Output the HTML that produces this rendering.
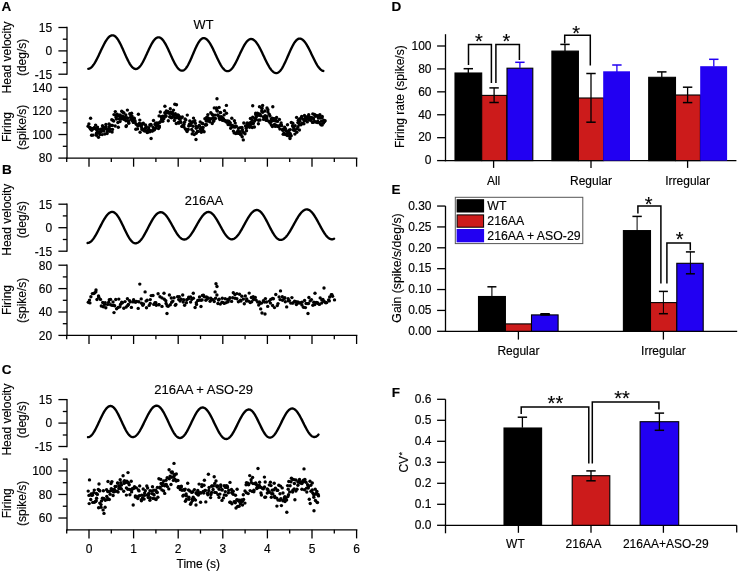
<!DOCTYPE html>
<html><head><meta charset="utf-8"><style>
html,body{margin:0;padding:0;background:#fff;}
svg{display:block;will-change:transform;}
text{font-family:"Liberation Sans",sans-serif;fill:#000;stroke:#000;stroke-width:0.15px;}
</style></head><body>
<svg width="738" height="573" viewBox="0 0 738 573">
<rect width="738" height="573" fill="#fff"/>
<text x="1.40" y="11.30" font-size="13.5" text-anchor="start" font-weight="bold" >A</text>
<text x="1.90" y="174.20" font-size="13.5" text-anchor="start" font-weight="bold" >B</text>
<text x="1.70" y="373.50" font-size="13.5" text-anchor="start" font-weight="bold" >C</text>
<text x="391.50" y="11.30" font-size="13.5" text-anchor="start" font-weight="bold" >D</text>
<text x="391.50" y="194.20" font-size="13.5" text-anchor="start" font-weight="bold" >E</text>
<text x="391.70" y="396.60" font-size="13.5" text-anchor="start" font-weight="bold" >F</text>
<text x="203.50" y="28.80" font-size="12.8" text-anchor="middle" font-weight="normal" >WT</text>
<line x1="67.00" y1="26.85" x2="67.00" y2="74.85" stroke="#000" stroke-width="1.3"/>
<line x1="58.40" y1="27.50" x2="67.00" y2="27.50" stroke="#000" stroke-width="1.3"/>
<text x="52.20" y="31.80" font-size="12" text-anchor="end" font-weight="normal" >15</text>
<line x1="58.40" y1="50.90" x2="67.00" y2="50.90" stroke="#000" stroke-width="1.3"/>
<text x="52.20" y="55.20" font-size="12" text-anchor="end" font-weight="normal" >0</text>
<line x1="58.40" y1="74.20" x2="67.00" y2="74.20" stroke="#000" stroke-width="1.3"/>
<text x="52.20" y="78.50" font-size="12" text-anchor="end" font-weight="normal" >-15</text>
<line x1="62.80" y1="39.20" x2="67.00" y2="39.20" stroke="#000" stroke-width="1.3"/>
<line x1="62.80" y1="62.60" x2="67.00" y2="62.60" stroke="#000" stroke-width="1.3"/>
<text transform="translate(10.80,57.40) rotate(-90)" font-size="12" text-anchor="middle">Head velocity</text>
<text transform="translate(26.30,57.40) rotate(-90)" font-size="12" text-anchor="middle">(deg/s)</text>
<line x1="67.00" y1="86.75" x2="67.00" y2="158.75" stroke="#000" stroke-width="1.3"/>
<line x1="58.40" y1="87.40" x2="67.00" y2="87.40" stroke="#000" stroke-width="1.3"/>
<text x="52.20" y="91.70" font-size="12" text-anchor="end" font-weight="normal" >140</text>
<line x1="58.40" y1="110.97" x2="67.00" y2="110.97" stroke="#000" stroke-width="1.3"/>
<text x="52.20" y="115.27" font-size="12" text-anchor="end" font-weight="normal" >120</text>
<line x1="58.40" y1="134.53" x2="67.00" y2="134.53" stroke="#000" stroke-width="1.3"/>
<text x="52.20" y="138.83" font-size="12" text-anchor="end" font-weight="normal" >100</text>
<line x1="58.40" y1="158.10" x2="67.00" y2="158.10" stroke="#000" stroke-width="1.3"/>
<text x="52.20" y="162.40" font-size="12" text-anchor="end" font-weight="normal" >80</text>
<line x1="62.80" y1="99.18" x2="67.00" y2="99.18" stroke="#000" stroke-width="1.3"/>
<line x1="62.80" y1="122.75" x2="67.00" y2="122.75" stroke="#000" stroke-width="1.3"/>
<line x1="62.80" y1="146.31" x2="67.00" y2="146.31" stroke="#000" stroke-width="1.3"/>
<text transform="translate(10.60,127.00) rotate(-90)" font-size="12" text-anchor="middle">Firing</text>
<text transform="translate(26.30,127.40) rotate(-90)" font-size="12" text-anchor="middle">(spike/s)</text>
<line x1="66.35" y1="158.10" x2="357.35" y2="158.10" stroke="#000" stroke-width="1.3"/>
<line x1="89.00" y1="158.10" x2="89.00" y2="166.70" stroke="#000" stroke-width="1.3"/>
<line x1="133.60" y1="158.10" x2="133.60" y2="166.70" stroke="#000" stroke-width="1.3"/>
<line x1="178.20" y1="158.10" x2="178.20" y2="166.70" stroke="#000" stroke-width="1.3"/>
<line x1="222.80" y1="158.10" x2="222.80" y2="166.70" stroke="#000" stroke-width="1.3"/>
<line x1="267.40" y1="158.10" x2="267.40" y2="166.70" stroke="#000" stroke-width="1.3"/>
<line x1="312.00" y1="158.10" x2="312.00" y2="166.70" stroke="#000" stroke-width="1.3"/>
<line x1="356.60" y1="158.10" x2="356.60" y2="166.70" stroke="#000" stroke-width="1.3"/>
<line x1="66.70" y1="158.10" x2="66.70" y2="161.90" stroke="#000" stroke-width="1.3"/>
<line x1="111.30" y1="158.10" x2="111.30" y2="161.90" stroke="#000" stroke-width="1.3"/>
<line x1="155.90" y1="158.10" x2="155.90" y2="161.90" stroke="#000" stroke-width="1.3"/>
<line x1="200.50" y1="158.10" x2="200.50" y2="161.90" stroke="#000" stroke-width="1.3"/>
<line x1="245.10" y1="158.10" x2="245.10" y2="161.90" stroke="#000" stroke-width="1.3"/>
<line x1="289.70" y1="158.10" x2="289.70" y2="161.90" stroke="#000" stroke-width="1.3"/>
<line x1="334.30" y1="158.10" x2="334.30" y2="161.90" stroke="#000" stroke-width="1.3"/>
<path d="M88.30,68.79 L88.80,68.71 L89.30,68.57 L89.80,68.36 L90.30,68.08 L90.80,67.73 L91.30,67.32 L91.80,66.85 L92.30,66.32 L92.80,65.73 L93.30,65.08 L93.80,64.38 L94.30,63.63 L94.80,62.83 L95.30,61.98 L95.80,61.10 L96.30,60.18 L96.80,59.22 L97.30,58.24 L97.80,57.23 L98.30,56.19 L98.80,55.15 L99.30,54.09 L99.80,53.02 L100.30,51.94 L100.80,50.87 L101.30,49.80 L101.80,48.74 L102.30,47.70 L102.80,46.67 L103.30,45.66 L103.80,44.69 L104.30,43.74 L104.80,42.82 L105.30,41.95 L105.80,41.11 L106.30,40.32 L106.80,39.58 L107.30,38.89 L107.80,38.25 L108.30,37.67 L108.80,37.15 L109.30,36.69 L109.80,36.29 L110.30,35.96 L110.80,35.70 L111.30,35.50 L111.80,35.37 L112.30,35.31 L112.80,35.31 L113.30,35.40 L113.80,35.56 L114.30,35.79 L114.80,36.10 L115.30,36.49 L115.80,36.94 L116.30,37.46 L116.80,38.05 L117.30,38.71 L117.80,39.42 L118.30,40.20 L118.80,41.02 L119.30,41.90 L119.80,42.82 L120.30,43.79 L120.80,44.80 L121.30,45.83 L121.80,46.90 L122.30,47.99 L122.80,49.10 L123.30,50.22 L123.80,51.36 L124.30,52.49 L124.80,53.62 L125.30,54.75 L125.80,55.87 L126.30,56.97 L126.80,58.04 L127.30,59.09 L127.80,60.11 L128.30,61.09 L128.80,62.04 L129.30,62.93 L129.80,63.78 L130.30,64.58 L130.80,65.31 L131.30,65.99 L131.80,66.61 L132.30,67.16 L132.80,67.64 L133.30,68.05 L133.80,68.39 L134.30,68.66 L134.80,68.85 L135.30,68.96 L135.80,69.00 L136.30,68.96 L136.80,68.85 L137.30,68.66 L137.80,68.40 L138.30,68.06 L138.80,67.65 L139.30,67.18 L139.80,66.63 L140.30,66.02 L140.80,65.35 L141.30,64.63 L141.80,63.84 L142.30,63.01 L142.80,62.13 L143.30,61.20 L143.80,60.24 L144.30,59.24 L144.80,58.21 L145.30,57.16 L145.80,56.09 L146.30,55.01 L146.80,53.92 L147.30,52.82 L147.80,51.73 L148.30,50.64 L148.80,49.56 L149.30,48.50 L149.80,47.47 L150.30,46.46 L150.80,45.48 L151.30,44.54 L151.80,43.64 L152.30,42.79 L152.80,41.98 L153.30,41.23 L153.80,40.54 L154.30,39.90 L154.80,39.33 L155.30,38.83 L155.80,38.39 L156.30,38.03 L156.80,37.74 L157.30,37.52 L157.80,37.37 L158.30,37.31 L158.80,37.31 L159.30,37.39 L159.80,37.55 L160.30,37.78 L160.80,38.08 L161.30,38.45 L161.80,38.89 L162.30,39.39 L162.80,39.96 L163.30,40.59 L163.80,41.29 L164.30,42.04 L164.80,42.84 L165.30,43.69 L165.80,44.58 L166.30,45.52 L166.80,46.50 L167.30,47.51 L167.80,48.54 L168.30,49.61 L168.80,50.69 L169.30,51.78 L169.80,52.89 L170.30,54.00 L170.80,55.11 L171.30,56.22 L171.80,57.31 L172.30,58.39 L172.80,59.46 L173.30,60.49 L173.80,61.50 L174.30,62.48 L174.80,63.42 L175.30,64.31 L175.80,65.16 L176.30,65.96 L176.80,66.71 L177.30,67.41 L177.80,68.04 L178.30,68.61 L178.80,69.11 L179.30,69.55 L179.80,69.92 L180.30,70.22 L180.80,70.45 L181.30,70.61 L181.80,70.69 L182.30,70.69 L182.80,70.62 L183.30,70.45 L183.80,70.20 L184.30,69.87 L184.80,69.46 L185.30,68.97 L185.80,68.40 L186.30,67.75 L186.80,67.04 L187.30,66.26 L187.80,65.41 L188.30,64.51 L188.80,63.55 L189.30,62.55 L189.80,61.50 L190.30,60.42 L190.80,59.30 L191.30,58.16 L191.80,57.00 L192.30,55.82 L192.80,54.64 L193.30,53.45 L193.80,52.27 L194.30,51.10 L194.80,49.95 L195.30,48.83 L195.80,47.73 L196.30,46.66 L196.80,45.64 L197.30,44.67 L197.80,43.74 L198.30,42.87 L198.80,42.07 L199.30,41.33 L199.80,40.65 L200.30,40.05 L200.80,39.53 L201.30,39.08 L201.80,38.72 L202.30,38.44 L202.80,38.24 L203.30,38.13 L203.80,38.10 L204.30,38.15 L204.80,38.27 L205.30,38.46 L205.80,38.73 L206.30,39.06 L206.80,39.46 L207.30,39.92 L207.80,40.45 L208.30,41.03 L208.80,41.68 L209.30,42.38 L209.80,43.14 L210.30,43.95 L210.80,44.80 L211.30,45.69 L211.80,46.63 L212.30,47.60 L212.80,48.59 L213.30,49.62 L213.80,50.66 L214.30,51.73 L214.80,52.80 L215.30,53.89 L215.80,54.98 L216.30,56.06 L216.80,57.14 L217.30,58.21 L217.80,59.27 L218.30,60.30 L218.80,61.31 L219.30,62.29 L219.80,63.24 L220.30,64.15 L220.80,65.02 L221.30,65.84 L221.80,66.62 L222.30,67.34 L222.80,68.01 L223.30,68.63 L223.80,69.18 L224.30,69.67 L224.80,70.09 L225.30,70.45 L225.80,70.74 L226.30,70.96 L226.80,71.11 L227.30,71.19 L227.80,71.19 L228.30,71.13 L228.80,70.99 L229.30,70.79 L229.80,70.51 L230.30,70.16 L230.80,69.75 L231.30,69.27 L231.80,68.73 L232.30,68.13 L232.80,67.46 L233.30,66.75 L233.80,65.98 L234.30,65.16 L234.80,64.30 L235.30,63.40 L235.80,62.46 L236.30,61.48 L236.80,60.48 L237.30,59.46 L237.80,58.41 L238.30,57.35 L238.80,56.28 L239.30,55.21 L239.80,54.13 L240.30,53.06 L240.80,52.00 L241.30,50.95 L241.80,49.92 L242.30,48.91 L242.80,47.93 L243.30,46.99 L243.80,46.08 L244.30,45.21 L244.80,44.38 L245.30,43.60 L245.80,42.87 L246.30,42.20 L246.80,41.59 L247.30,41.03 L247.80,40.54 L248.30,40.11 L248.80,39.76 L249.30,39.46 L249.80,39.24 L250.30,39.09 L250.80,39.01 L251.30,39.01 L251.80,39.06 L252.30,39.19 L252.80,39.38 L253.30,39.64 L253.80,39.96 L254.30,40.34 L254.80,40.78 L255.30,41.28 L255.80,41.84 L256.30,42.46 L256.80,43.13 L257.30,43.84 L257.80,44.61 L258.30,45.42 L258.80,46.27 L259.30,47.16 L259.80,48.08 L260.30,49.04 L260.80,50.02 L261.30,51.02 L261.80,52.05 L262.30,53.09 L262.80,54.14 L263.30,55.20 L263.80,56.26 L264.30,57.32 L264.80,58.38 L265.30,59.43 L265.80,60.46 L266.30,61.48 L266.80,62.48 L267.30,63.45 L267.80,64.39 L268.30,65.30 L268.80,66.17 L269.30,67.01 L269.80,67.80 L270.30,68.55 L270.80,69.25 L271.30,69.89 L271.80,70.49 L272.30,71.02 L272.80,71.50 L273.30,71.92 L273.80,72.28 L274.30,72.57 L274.80,72.80 L275.30,72.97 L275.80,73.07 L276.30,73.10 L276.80,73.06 L277.30,72.94 L277.80,72.75 L278.30,72.48 L278.80,72.14 L279.30,71.72 L279.80,71.23 L280.30,70.67 L280.80,70.05 L281.30,69.36 L281.80,68.61 L282.30,67.80 L282.80,66.94 L283.30,66.03 L283.80,65.07 L284.30,64.07 L284.80,63.04 L285.30,61.97 L285.80,60.87 L286.30,59.75 L286.80,58.62 L287.30,57.47 L287.80,56.31 L288.30,55.16 L288.80,54.00 L289.30,52.85 L289.80,51.72 L290.30,50.61 L290.80,49.52 L291.30,48.46 L291.80,47.43 L292.30,46.44 L292.80,45.49 L293.30,44.59 L293.80,43.73 L294.30,42.94 L294.80,42.20 L295.30,41.52 L295.80,40.91 L296.30,40.37 L296.80,39.89 L297.30,39.49 L297.80,39.16 L298.30,38.90 L298.80,38.73 L299.30,38.62 L299.80,38.60 L300.30,38.65 L300.80,38.76 L301.30,38.95 L301.80,39.19 L302.30,39.51 L302.80,39.88 L303.30,40.32 L303.80,40.82 L304.30,41.38 L304.80,42.00 L305.30,42.66 L305.80,43.38 L306.30,44.15 L306.80,44.96 L307.30,45.81 L307.80,46.70 L308.30,47.62 L308.80,48.58 L309.30,49.56 L309.80,50.56 L310.30,51.58 L310.80,52.61 L311.30,53.65 L311.80,54.70 L312.30,55.74 L312.80,56.78 L313.30,57.82 L313.80,58.84 L314.30,59.85 L314.80,60.83 L315.30,61.79 L315.80,62.72 L316.30,63.61 L316.80,64.47 L317.30,65.29 L317.80,66.07 L318.30,66.80 L318.80,67.47 L319.30,68.10 L319.80,68.67 L320.30,69.18 L320.80,69.63 L321.30,70.02 L321.80,70.35 L322.30,70.61 L322.80,70.81 L323.30,70.93" fill="none" stroke="#000" stroke-width="2.35" stroke-linejoin="round" stroke-linecap="round"/>
<g fill="#000"><circle cx="88.1" cy="126.3" r="1.7"/><circle cx="88.9" cy="123.9" r="1.7"/><circle cx="89.6" cy="127.5" r="1.7"/><circle cx="90.2" cy="127.6" r="1.7"/><circle cx="90.6" cy="118.2" r="1.7"/><circle cx="90.4" cy="129.0" r="1.7"/><circle cx="91.6" cy="135.2" r="1.7"/><circle cx="92.1" cy="128.7" r="1.7"/><circle cx="91.7" cy="130.2" r="1.7"/><circle cx="92.4" cy="128.6" r="1.7"/><circle cx="92.6" cy="129.0" r="1.7"/><circle cx="93.1" cy="135.1" r="1.7"/><circle cx="94.2" cy="127.8" r="1.7"/><circle cx="94.8" cy="128.0" r="1.7"/><circle cx="94.2" cy="128.2" r="1.7"/><circle cx="95.6" cy="125.1" r="1.7"/><circle cx="95.9" cy="129.1" r="1.7"/><circle cx="96.4" cy="135.3" r="1.7"/><circle cx="96.4" cy="133.5" r="1.7"/><circle cx="97.2" cy="132.2" r="1.7"/><circle cx="96.9" cy="129.9" r="1.7"/><circle cx="97.5" cy="127.1" r="1.7"/><circle cx="98.1" cy="129.1" r="1.7"/><circle cx="98.6" cy="132.0" r="1.7"/><circle cx="98.5" cy="137.3" r="1.7"/><circle cx="99.3" cy="133.0" r="1.7"/><circle cx="99.9" cy="134.5" r="1.7"/><circle cx="100.8" cy="129.2" r="1.7"/><circle cx="100.8" cy="130.0" r="1.7"/><circle cx="100.9" cy="131.5" r="1.7"/><circle cx="102.2" cy="134.6" r="1.7"/><circle cx="102.5" cy="125.8" r="1.7"/><circle cx="102.9" cy="128.3" r="1.7"/><circle cx="102.4" cy="130.7" r="1.7"/><circle cx="103.5" cy="127.3" r="1.7"/><circle cx="103.7" cy="130.9" r="1.7"/><circle cx="104.3" cy="127.6" r="1.7"/><circle cx="104.1" cy="128.2" r="1.7"/><circle cx="104.8" cy="134.0" r="1.7"/><circle cx="105.9" cy="124.5" r="1.7"/><circle cx="105.7" cy="128.7" r="1.7"/><circle cx="105.9" cy="127.0" r="1.7"/><circle cx="107.2" cy="131.8" r="1.7"/><circle cx="107.1" cy="133.5" r="1.7"/><circle cx="107.4" cy="129.4" r="1.7"/><circle cx="108.5" cy="129.4" r="1.7"/><circle cx="108.4" cy="130.4" r="1.7"/><circle cx="109.0" cy="126.9" r="1.7"/><circle cx="109.0" cy="124.0" r="1.7"/><circle cx="110.1" cy="125.1" r="1.7"/><circle cx="109.8" cy="131.3" r="1.7"/><circle cx="110.4" cy="129.1" r="1.7"/><circle cx="111.5" cy="125.4" r="1.7"/><circle cx="112.1" cy="132.1" r="1.7"/><circle cx="111.8" cy="119.8" r="1.7"/><circle cx="112.4" cy="125.4" r="1.7"/><circle cx="112.5" cy="129.4" r="1.7"/><circle cx="113.2" cy="120.4" r="1.7"/><circle cx="113.7" cy="121.1" r="1.7"/><circle cx="114.0" cy="114.6" r="1.7"/><circle cx="115.2" cy="126.0" r="1.7"/><circle cx="115.3" cy="111.6" r="1.7"/><circle cx="116.1" cy="117.4" r="1.7"/><circle cx="115.9" cy="114.9" r="1.7"/><circle cx="116.2" cy="116.5" r="1.7"/><circle cx="116.5" cy="119.1" r="1.7"/><circle cx="117.2" cy="114.3" r="1.7"/><circle cx="118.3" cy="127.3" r="1.7"/><circle cx="117.9" cy="122.5" r="1.7"/><circle cx="118.5" cy="115.9" r="1.7"/><circle cx="119.4" cy="119.1" r="1.7"/><circle cx="120.0" cy="114.9" r="1.7"/><circle cx="120.0" cy="116.7" r="1.7"/><circle cx="120.0" cy="121.6" r="1.7"/><circle cx="121.4" cy="116.2" r="1.7"/><circle cx="121.7" cy="111.3" r="1.7"/><circle cx="121.6" cy="119.0" r="1.7"/><circle cx="122.8" cy="112.3" r="1.7"/><circle cx="122.2" cy="116.6" r="1.7"/><circle cx="122.6" cy="116.3" r="1.7"/><circle cx="123.9" cy="113.0" r="1.7"/><circle cx="124.3" cy="119.5" r="1.7"/><circle cx="124.5" cy="118.0" r="1.7"/><circle cx="125.3" cy="117.2" r="1.7"/><circle cx="125.8" cy="115.0" r="1.7"/><circle cx="126.1" cy="126.6" r="1.7"/><circle cx="126.4" cy="125.6" r="1.7"/><circle cx="126.0" cy="120.8" r="1.7"/><circle cx="127.6" cy="118.2" r="1.7"/><circle cx="127.2" cy="117.9" r="1.7"/><circle cx="127.4" cy="110.1" r="1.7"/><circle cx="128.8" cy="123.3" r="1.7"/><circle cx="128.5" cy="120.9" r="1.7"/><circle cx="128.7" cy="122.1" r="1.7"/><circle cx="130.2" cy="114.4" r="1.7"/><circle cx="129.9" cy="113.6" r="1.7"/><circle cx="131.0" cy="119.3" r="1.7"/><circle cx="130.6" cy="117.3" r="1.7"/><circle cx="132.0" cy="116.1" r="1.7"/><circle cx="131.6" cy="113.2" r="1.7"/><circle cx="132.1" cy="120.5" r="1.7"/><circle cx="133.3" cy="120.6" r="1.7"/><circle cx="133.3" cy="122.4" r="1.7"/><circle cx="133.4" cy="118.1" r="1.7"/><circle cx="133.8" cy="122.0" r="1.7"/><circle cx="134.3" cy="118.3" r="1.7"/><circle cx="135.0" cy="120.8" r="1.7"/><circle cx="135.0" cy="122.1" r="1.7"/><circle cx="135.8" cy="129.2" r="1.7"/><circle cx="136.0" cy="123.9" r="1.7"/><circle cx="136.7" cy="124.6" r="1.7"/><circle cx="137.5" cy="128.9" r="1.7"/><circle cx="138.1" cy="125.3" r="1.7"/><circle cx="138.4" cy="114.3" r="1.7"/><circle cx="137.9" cy="126.0" r="1.7"/><circle cx="139.3" cy="123.5" r="1.7"/><circle cx="139.8" cy="120.1" r="1.7"/><circle cx="140.1" cy="132.3" r="1.7"/><circle cx="140.6" cy="125.2" r="1.7"/><circle cx="140.5" cy="124.0" r="1.7"/><circle cx="141.3" cy="126.6" r="1.7"/><circle cx="142.0" cy="128.4" r="1.7"/><circle cx="142.0" cy="129.4" r="1.7"/><circle cx="142.2" cy="124.4" r="1.7"/><circle cx="142.5" cy="123.8" r="1.7"/><circle cx="143.3" cy="123.3" r="1.7"/><circle cx="143.5" cy="130.3" r="1.7"/><circle cx="144.5" cy="131.1" r="1.7"/><circle cx="144.4" cy="129.2" r="1.7"/><circle cx="145.0" cy="130.1" r="1.7"/><circle cx="145.6" cy="128.0" r="1.7"/><circle cx="145.5" cy="125.0" r="1.7"/><circle cx="146.3" cy="126.7" r="1.7"/><circle cx="147.2" cy="132.5" r="1.7"/><circle cx="146.9" cy="131.5" r="1.7"/><circle cx="147.6" cy="130.5" r="1.7"/><circle cx="147.6" cy="132.3" r="1.7"/><circle cx="148.7" cy="127.8" r="1.7"/><circle cx="148.8" cy="129.4" r="1.7"/><circle cx="149.8" cy="125.0" r="1.7"/><circle cx="150.4" cy="130.6" r="1.7"/><circle cx="149.9" cy="131.8" r="1.7"/><circle cx="151.0" cy="125.3" r="1.7"/><circle cx="150.9" cy="124.4" r="1.7"/><circle cx="151.1" cy="138.5" r="1.7"/><circle cx="152.4" cy="131.1" r="1.7"/><circle cx="152.1" cy="130.7" r="1.7"/><circle cx="153.2" cy="127.5" r="1.7"/><circle cx="153.5" cy="120.5" r="1.7"/><circle cx="154.3" cy="129.7" r="1.7"/><circle cx="154.5" cy="128.4" r="1.7"/><circle cx="154.2" cy="129.8" r="1.7"/><circle cx="155.6" cy="123.2" r="1.7"/><circle cx="155.0" cy="124.4" r="1.7"/><circle cx="155.6" cy="128.2" r="1.7"/><circle cx="156.3" cy="125.5" r="1.7"/><circle cx="157.0" cy="126.1" r="1.7"/><circle cx="157.0" cy="122.9" r="1.7"/><circle cx="157.4" cy="124.5" r="1.7"/><circle cx="158.5" cy="128.6" r="1.7"/><circle cx="159.1" cy="115.9" r="1.7"/><circle cx="159.3" cy="122.7" r="1.7"/><circle cx="159.3" cy="127.2" r="1.7"/><circle cx="159.4" cy="126.1" r="1.7"/><circle cx="160.4" cy="121.7" r="1.7"/><circle cx="160.3" cy="112.0" r="1.7"/><circle cx="161.3" cy="116.7" r="1.7"/><circle cx="161.7" cy="119.3" r="1.7"/><circle cx="162.0" cy="117.9" r="1.7"/><circle cx="162.8" cy="121.2" r="1.7"/><circle cx="162.9" cy="116.2" r="1.7"/><circle cx="162.8" cy="119.6" r="1.7"/><circle cx="163.9" cy="118.5" r="1.7"/><circle cx="164.8" cy="112.7" r="1.7"/><circle cx="165.1" cy="115.8" r="1.7"/><circle cx="164.9" cy="106.2" r="1.7"/><circle cx="165.7" cy="115.8" r="1.7"/><circle cx="165.9" cy="116.2" r="1.7"/><circle cx="166.3" cy="111.0" r="1.7"/><circle cx="167.4" cy="112.7" r="1.7"/><circle cx="167.3" cy="112.4" r="1.7"/><circle cx="167.9" cy="111.5" r="1.7"/><circle cx="168.3" cy="120.7" r="1.7"/><circle cx="169.0" cy="112.7" r="1.7"/><circle cx="169.4" cy="113.3" r="1.7"/><circle cx="169.8" cy="116.9" r="1.7"/><circle cx="170.0" cy="116.7" r="1.7"/><circle cx="170.3" cy="108.8" r="1.7"/><circle cx="170.8" cy="112.1" r="1.7"/><circle cx="171.4" cy="117.7" r="1.7"/><circle cx="171.7" cy="113.9" r="1.7"/><circle cx="172.4" cy="112.1" r="1.7"/><circle cx="172.2" cy="117.3" r="1.7"/><circle cx="172.5" cy="113.6" r="1.7"/><circle cx="173.5" cy="110.1" r="1.7"/><circle cx="173.5" cy="115.2" r="1.7"/><circle cx="174.6" cy="115.3" r="1.7"/><circle cx="174.4" cy="120.5" r="1.7"/><circle cx="174.8" cy="118.0" r="1.7"/><circle cx="175.3" cy="113.8" r="1.7"/><circle cx="176.3" cy="123.5" r="1.7"/><circle cx="176.7" cy="117.8" r="1.7"/><circle cx="176.9" cy="117.0" r="1.7"/><circle cx="177.5" cy="115.0" r="1.7"/><circle cx="178.4" cy="122.9" r="1.7"/><circle cx="178.4" cy="115.3" r="1.7"/><circle cx="178.7" cy="122.1" r="1.7"/><circle cx="179.0" cy="123.0" r="1.7"/><circle cx="179.3" cy="118.7" r="1.7"/><circle cx="179.5" cy="116.7" r="1.7"/><circle cx="180.4" cy="121.5" r="1.7"/><circle cx="181.0" cy="122.4" r="1.7"/><circle cx="181.0" cy="118.2" r="1.7"/><circle cx="182.3" cy="117.0" r="1.7"/><circle cx="182.0" cy="126.4" r="1.7"/><circle cx="182.2" cy="126.3" r="1.7"/><circle cx="183.1" cy="125.1" r="1.7"/><circle cx="183.9" cy="127.0" r="1.7"/><circle cx="184.0" cy="124.4" r="1.7"/><circle cx="184.5" cy="122.2" r="1.7"/><circle cx="185.4" cy="129.0" r="1.7"/><circle cx="185.0" cy="118.9" r="1.7"/><circle cx="185.8" cy="119.9" r="1.7"/><circle cx="186.5" cy="129.9" r="1.7"/><circle cx="187.1" cy="131.5" r="1.7"/><circle cx="186.5" cy="129.8" r="1.7"/><circle cx="187.0" cy="130.0" r="1.7"/><circle cx="187.3" cy="115.1" r="1.7"/><circle cx="188.7" cy="126.1" r="1.7"/><circle cx="188.3" cy="129.4" r="1.7"/><circle cx="189.4" cy="124.2" r="1.7"/><circle cx="189.8" cy="120.9" r="1.7"/><circle cx="190.2" cy="125.4" r="1.7"/><circle cx="190.0" cy="125.0" r="1.7"/><circle cx="191.1" cy="123.7" r="1.7"/><circle cx="191.4" cy="122.4" r="1.7"/><circle cx="191.7" cy="129.4" r="1.7"/><circle cx="192.2" cy="133.9" r="1.7"/><circle cx="193.0" cy="126.3" r="1.7"/><circle cx="192.8" cy="121.7" r="1.7"/><circle cx="193.2" cy="131.4" r="1.7"/><circle cx="193.5" cy="118.1" r="1.7"/><circle cx="194.8" cy="120.7" r="1.7"/><circle cx="194.3" cy="134.6" r="1.7"/><circle cx="195.3" cy="123.3" r="1.7"/><circle cx="196.2" cy="133.3" r="1.7"/><circle cx="196.2" cy="128.3" r="1.7"/><circle cx="196.1" cy="126.2" r="1.7"/><circle cx="197.4" cy="131.4" r="1.7"/><circle cx="197.9" cy="131.5" r="1.7"/><circle cx="197.7" cy="127.3" r="1.7"/><circle cx="198.2" cy="131.4" r="1.7"/><circle cx="199.2" cy="125.4" r="1.7"/><circle cx="199.5" cy="125.9" r="1.7"/><circle cx="200.3" cy="129.1" r="1.7"/><circle cx="200.2" cy="121.9" r="1.7"/><circle cx="201.0" cy="128.1" r="1.7"/><circle cx="201.1" cy="131.1" r="1.7"/><circle cx="201.3" cy="132.2" r="1.7"/><circle cx="202.1" cy="127.6" r="1.7"/><circle cx="202.1" cy="123.3" r="1.7"/><circle cx="202.8" cy="130.1" r="1.7"/><circle cx="202.8" cy="123.7" r="1.7"/><circle cx="203.1" cy="127.4" r="1.7"/><circle cx="204.1" cy="131.7" r="1.7"/><circle cx="204.9" cy="118.7" r="1.7"/><circle cx="205.5" cy="124.7" r="1.7"/><circle cx="205.5" cy="125.0" r="1.7"/><circle cx="206.2" cy="121.1" r="1.7"/><circle cx="206.8" cy="117.2" r="1.7"/><circle cx="206.6" cy="124.8" r="1.7"/><circle cx="206.8" cy="119.9" r="1.7"/><circle cx="207.8" cy="121.0" r="1.7"/><circle cx="207.9" cy="117.9" r="1.7"/><circle cx="207.9" cy="114.6" r="1.7"/><circle cx="208.4" cy="118.1" r="1.7"/><circle cx="209.5" cy="119.8" r="1.7"/><circle cx="210.2" cy="119.1" r="1.7"/><circle cx="209.8" cy="121.8" r="1.7"/><circle cx="211.1" cy="118.7" r="1.7"/><circle cx="210.8" cy="112.7" r="1.7"/><circle cx="212.0" cy="114.1" r="1.7"/><circle cx="212.2" cy="123.5" r="1.7"/><circle cx="212.7" cy="115.0" r="1.7"/><circle cx="213.4" cy="117.8" r="1.7"/><circle cx="213.6" cy="121.3" r="1.7"/><circle cx="213.7" cy="120.3" r="1.7"/><circle cx="214.3" cy="107.9" r="1.7"/><circle cx="215.0" cy="115.1" r="1.7"/><circle cx="215.3" cy="118.5" r="1.7"/><circle cx="215.0" cy="118.4" r="1.7"/><circle cx="216.5" cy="108.5" r="1.7"/><circle cx="216.4" cy="108.0" r="1.7"/><circle cx="217.2" cy="111.0" r="1.7"/><circle cx="217.1" cy="110.6" r="1.7"/><circle cx="217.7" cy="115.0" r="1.7"/><circle cx="218.2" cy="115.4" r="1.7"/><circle cx="219.1" cy="118.1" r="1.7"/><circle cx="219.1" cy="107.4" r="1.7"/><circle cx="219.9" cy="119.5" r="1.7"/><circle cx="220.3" cy="117.3" r="1.7"/><circle cx="220.2" cy="112.5" r="1.7"/><circle cx="220.6" cy="112.6" r="1.7"/><circle cx="221.1" cy="116.6" r="1.7"/><circle cx="221.4" cy="118.7" r="1.7"/><circle cx="221.8" cy="117.3" r="1.7"/><circle cx="222.6" cy="120.4" r="1.7"/><circle cx="222.9" cy="117.9" r="1.7"/><circle cx="223.6" cy="119.1" r="1.7"/><circle cx="224.1" cy="114.9" r="1.7"/><circle cx="224.8" cy="120.9" r="1.7"/><circle cx="225.2" cy="120.6" r="1.7"/><circle cx="224.5" cy="110.8" r="1.7"/><circle cx="225.4" cy="120.9" r="1.7"/><circle cx="226.4" cy="105.4" r="1.7"/><circle cx="226.5" cy="113.3" r="1.7"/><circle cx="226.7" cy="122.3" r="1.7"/><circle cx="227.4" cy="120.9" r="1.7"/><circle cx="227.9" cy="121.4" r="1.7"/><circle cx="228.1" cy="124.6" r="1.7"/><circle cx="229.0" cy="122.1" r="1.7"/><circle cx="228.9" cy="121.3" r="1.7"/><circle cx="229.2" cy="124.3" r="1.7"/><circle cx="230.3" cy="123.0" r="1.7"/><circle cx="230.2" cy="125.1" r="1.7"/><circle cx="230.7" cy="128.2" r="1.7"/><circle cx="231.8" cy="118.2" r="1.7"/><circle cx="231.7" cy="125.6" r="1.7"/><circle cx="232.4" cy="125.5" r="1.7"/><circle cx="233.1" cy="126.7" r="1.7"/><circle cx="233.5" cy="126.6" r="1.7"/><circle cx="233.4" cy="131.1" r="1.7"/><circle cx="234.3" cy="126.8" r="1.7"/><circle cx="234.2" cy="132.9" r="1.7"/><circle cx="234.4" cy="120.7" r="1.7"/><circle cx="235.2" cy="123.1" r="1.7"/><circle cx="235.2" cy="127.1" r="1.7"/><circle cx="235.8" cy="133.5" r="1.7"/><circle cx="236.3" cy="126.2" r="1.7"/><circle cx="236.5" cy="132.7" r="1.7"/><circle cx="237.6" cy="132.1" r="1.7"/><circle cx="238.0" cy="130.6" r="1.7"/><circle cx="238.6" cy="128.2" r="1.7"/><circle cx="238.5" cy="133.4" r="1.7"/><circle cx="238.7" cy="133.4" r="1.7"/><circle cx="239.8" cy="132.6" r="1.7"/><circle cx="240.2" cy="131.8" r="1.7"/><circle cx="240.9" cy="134.4" r="1.7"/><circle cx="240.3" cy="127.6" r="1.7"/><circle cx="240.8" cy="134.7" r="1.7"/><circle cx="242.0" cy="127.4" r="1.7"/><circle cx="242.2" cy="136.7" r="1.7"/><circle cx="242.4" cy="129.8" r="1.7"/><circle cx="243.3" cy="139.9" r="1.7"/><circle cx="243.0" cy="132.0" r="1.7"/><circle cx="243.7" cy="132.6" r="1.7"/><circle cx="243.8" cy="123.0" r="1.7"/><circle cx="245.0" cy="133.8" r="1.7"/><circle cx="245.5" cy="126.0" r="1.7"/><circle cx="246.2" cy="128.2" r="1.7"/><circle cx="246.5" cy="130.8" r="1.7"/><circle cx="247.0" cy="123.7" r="1.7"/><circle cx="247.2" cy="123.0" r="1.7"/><circle cx="247.5" cy="126.3" r="1.7"/><circle cx="248.4" cy="124.9" r="1.7"/><circle cx="248.3" cy="125.7" r="1.7"/><circle cx="248.4" cy="123.5" r="1.7"/><circle cx="248.9" cy="124.6" r="1.7"/><circle cx="249.6" cy="127.2" r="1.7"/><circle cx="250.3" cy="125.8" r="1.7"/><circle cx="250.6" cy="122.5" r="1.7"/><circle cx="250.4" cy="118.5" r="1.7"/><circle cx="251.6" cy="123.8" r="1.7"/><circle cx="252.3" cy="120.4" r="1.7"/><circle cx="252.7" cy="117.2" r="1.7"/><circle cx="252.3" cy="127.5" r="1.7"/><circle cx="253.0" cy="123.8" r="1.7"/><circle cx="253.3" cy="123.2" r="1.7"/><circle cx="254.4" cy="127.0" r="1.7"/><circle cx="254.9" cy="118.3" r="1.7"/><circle cx="254.7" cy="121.0" r="1.7"/><circle cx="255.7" cy="114.5" r="1.7"/><circle cx="255.7" cy="113.1" r="1.7"/><circle cx="255.7" cy="119.5" r="1.7"/><circle cx="256.1" cy="117.5" r="1.7"/><circle cx="256.6" cy="115.8" r="1.7"/><circle cx="257.5" cy="113.3" r="1.7"/><circle cx="258.4" cy="123.7" r="1.7"/><circle cx="258.7" cy="114.3" r="1.7"/><circle cx="258.5" cy="120.2" r="1.7"/><circle cx="259.1" cy="115.4" r="1.7"/><circle cx="259.5" cy="106.7" r="1.7"/><circle cx="260.0" cy="120.0" r="1.7"/><circle cx="260.0" cy="114.0" r="1.7"/><circle cx="260.9" cy="115.8" r="1.7"/><circle cx="261.7" cy="111.0" r="1.7"/><circle cx="261.9" cy="108.5" r="1.7"/><circle cx="261.9" cy="108.1" r="1.7"/><circle cx="262.7" cy="112.2" r="1.7"/><circle cx="262.6" cy="105.5" r="1.7"/><circle cx="263.5" cy="117.0" r="1.7"/><circle cx="263.6" cy="119.4" r="1.7"/><circle cx="265.1" cy="115.6" r="1.7"/><circle cx="264.9" cy="111.0" r="1.7"/><circle cx="265.7" cy="116.5" r="1.7"/><circle cx="265.9" cy="118.8" r="1.7"/><circle cx="266.8" cy="118.1" r="1.7"/><circle cx="266.2" cy="120.4" r="1.7"/><circle cx="266.6" cy="116.5" r="1.7"/><circle cx="267.9" cy="112.0" r="1.7"/><circle cx="267.6" cy="120.6" r="1.7"/><circle cx="267.9" cy="109.7" r="1.7"/><circle cx="269.1" cy="121.5" r="1.7"/><circle cx="269.2" cy="114.2" r="1.7"/><circle cx="270.1" cy="123.0" r="1.7"/><circle cx="270.0" cy="116.0" r="1.7"/><circle cx="271.0" cy="121.5" r="1.7"/><circle cx="271.2" cy="119.1" r="1.7"/><circle cx="271.4" cy="124.9" r="1.7"/><circle cx="272.2" cy="118.3" r="1.7"/><circle cx="272.6" cy="120.8" r="1.7"/><circle cx="272.4" cy="126.5" r="1.7"/><circle cx="273.1" cy="118.6" r="1.7"/><circle cx="274.3" cy="118.8" r="1.7"/><circle cx="273.6" cy="120.3" r="1.7"/><circle cx="274.5" cy="124.5" r="1.7"/><circle cx="275.6" cy="121.0" r="1.7"/><circle cx="275.4" cy="126.4" r="1.7"/><circle cx="275.8" cy="120.2" r="1.7"/><circle cx="276.0" cy="125.1" r="1.7"/><circle cx="276.6" cy="117.5" r="1.7"/><circle cx="277.5" cy="121.4" r="1.7"/><circle cx="277.9" cy="126.0" r="1.7"/><circle cx="277.9" cy="126.4" r="1.7"/><circle cx="278.5" cy="126.6" r="1.7"/><circle cx="278.6" cy="126.8" r="1.7"/><circle cx="279.4" cy="119.4" r="1.7"/><circle cx="279.9" cy="129.0" r="1.7"/><circle cx="280.1" cy="125.3" r="1.7"/><circle cx="281.1" cy="125.3" r="1.7"/><circle cx="281.4" cy="125.5" r="1.7"/><circle cx="281.1" cy="123.0" r="1.7"/><circle cx="281.5" cy="125.4" r="1.7"/><circle cx="282.7" cy="130.3" r="1.7"/><circle cx="282.7" cy="129.3" r="1.7"/><circle cx="283.2" cy="134.2" r="1.7"/><circle cx="283.3" cy="130.0" r="1.7"/><circle cx="284.0" cy="133.2" r="1.7"/><circle cx="284.8" cy="129.9" r="1.7"/><circle cx="284.6" cy="127.1" r="1.7"/><circle cx="285.3" cy="134.5" r="1.7"/><circle cx="285.5" cy="128.7" r="1.7"/><circle cx="286.6" cy="131.3" r="1.7"/><circle cx="286.4" cy="134.1" r="1.7"/><circle cx="287.5" cy="124.7" r="1.7"/><circle cx="287.3" cy="135.5" r="1.7"/><circle cx="287.9" cy="133.4" r="1.7"/><circle cx="288.9" cy="132.3" r="1.7"/><circle cx="289.0" cy="130.2" r="1.7"/><circle cx="289.7" cy="135.7" r="1.7"/><circle cx="289.9" cy="136.7" r="1.7"/><circle cx="290.3" cy="129.6" r="1.7"/><circle cx="290.3" cy="133.8" r="1.7"/><circle cx="291.2" cy="135.7" r="1.7"/><circle cx="291.3" cy="122.5" r="1.7"/><circle cx="292.6" cy="125.8" r="1.7"/><circle cx="292.8" cy="123.2" r="1.7"/><circle cx="293.5" cy="130.1" r="1.7"/><circle cx="293.0" cy="126.5" r="1.7"/><circle cx="293.7" cy="127.9" r="1.7"/><circle cx="294.9" cy="134.1" r="1.7"/><circle cx="294.7" cy="130.4" r="1.7"/><circle cx="294.8" cy="129.7" r="1.7"/><circle cx="295.1" cy="125.7" r="1.7"/><circle cx="296.6" cy="117.4" r="1.7"/><circle cx="296.8" cy="132.2" r="1.7"/><circle cx="297.1" cy="128.7" r="1.7"/><circle cx="297.9" cy="122.6" r="1.7"/><circle cx="298.3" cy="120.3" r="1.7"/><circle cx="298.0" cy="126.7" r="1.7"/><circle cx="298.8" cy="122.8" r="1.7"/><circle cx="299.4" cy="130.0" r="1.7"/><circle cx="299.4" cy="124.5" r="1.7"/><circle cx="299.5" cy="119.0" r="1.7"/><circle cx="299.8" cy="121.3" r="1.7"/><circle cx="300.9" cy="124.8" r="1.7"/><circle cx="301.4" cy="117.2" r="1.7"/><circle cx="301.7" cy="116.4" r="1.7"/><circle cx="302.5" cy="123.5" r="1.7"/><circle cx="302.3" cy="123.4" r="1.7"/><circle cx="302.6" cy="119.0" r="1.7"/><circle cx="303.9" cy="123.7" r="1.7"/><circle cx="304.3" cy="120.9" r="1.7"/><circle cx="304.5" cy="119.9" r="1.7"/><circle cx="304.5" cy="115.4" r="1.7"/><circle cx="305.4" cy="116.7" r="1.7"/><circle cx="305.3" cy="119.0" r="1.7"/><circle cx="305.8" cy="120.3" r="1.7"/><circle cx="306.3" cy="118.0" r="1.7"/><circle cx="307.3" cy="121.9" r="1.7"/><circle cx="307.9" cy="118.4" r="1.7"/><circle cx="307.6" cy="116.7" r="1.7"/><circle cx="308.7" cy="114.7" r="1.7"/><circle cx="309.0" cy="119.8" r="1.7"/><circle cx="309.0" cy="118.5" r="1.7"/><circle cx="309.7" cy="117.2" r="1.7"/><circle cx="310.5" cy="120.1" r="1.7"/><circle cx="310.0" cy="117.5" r="1.7"/><circle cx="311.0" cy="117.7" r="1.7"/><circle cx="310.8" cy="120.2" r="1.7"/><circle cx="311.6" cy="117.6" r="1.7"/><circle cx="312.8" cy="113.9" r="1.7"/><circle cx="313.3" cy="118.0" r="1.7"/><circle cx="312.5" cy="122.4" r="1.7"/><circle cx="313.1" cy="122.2" r="1.7"/><circle cx="313.6" cy="119.1" r="1.7"/><circle cx="314.4" cy="114.5" r="1.7"/><circle cx="314.5" cy="121.5" r="1.7"/><circle cx="315.5" cy="122.0" r="1.7"/><circle cx="315.7" cy="116.2" r="1.7"/><circle cx="315.6" cy="115.2" r="1.7"/><circle cx="317.2" cy="115.8" r="1.7"/><circle cx="317.3" cy="122.6" r="1.7"/><circle cx="317.7" cy="121.2" r="1.7"/><circle cx="318.5" cy="115.9" r="1.7"/><circle cx="318.4" cy="118.1" r="1.7"/><circle cx="319.0" cy="122.4" r="1.7"/><circle cx="319.2" cy="117.2" r="1.7"/><circle cx="319.9" cy="114.7" r="1.7"/><circle cx="320.3" cy="118.0" r="1.7"/><circle cx="320.3" cy="124.0" r="1.7"/><circle cx="321.5" cy="121.3" r="1.7"/><circle cx="321.4" cy="124.9" r="1.7"/><circle cx="322.0" cy="117.8" r="1.7"/><circle cx="322.2" cy="116.5" r="1.7"/><circle cx="322.2" cy="124.9" r="1.7"/><circle cx="323.5" cy="123.1" r="1.7"/><circle cx="323.7" cy="120.3" r="1.7"/><circle cx="324.5" cy="121.5" r="1.7"/><circle cx="325.1" cy="120.8" r="1.7"/><circle cx="217.0" cy="98.8" r="1.7"/><circle cx="252.7" cy="105.8" r="1.7"/><circle cx="272.8" cy="106.8" r="1.7"/><circle cx="174.8" cy="104.3" r="1.7"/><circle cx="176.5" cy="104.8" r="1.7"/><circle cx="290.0" cy="138.5" r="1.7"/><circle cx="196.0" cy="139.5" r="1.7"/><circle cx="267.0" cy="108.0" r="1.7"/></g>
<text x="204.00" y="204.80" font-size="12.8" text-anchor="middle" font-weight="normal" >216AA</text>
<line x1="67.00" y1="203.55" x2="67.00" y2="251.85" stroke="#000" stroke-width="1.3"/>
<line x1="58.40" y1="204.20" x2="67.00" y2="204.20" stroke="#000" stroke-width="1.3"/>
<text x="52.20" y="208.50" font-size="12" text-anchor="end" font-weight="normal" >15</text>
<line x1="58.40" y1="227.70" x2="67.00" y2="227.70" stroke="#000" stroke-width="1.3"/>
<text x="52.20" y="232.00" font-size="12" text-anchor="end" font-weight="normal" >0</text>
<line x1="58.40" y1="251.20" x2="67.00" y2="251.20" stroke="#000" stroke-width="1.3"/>
<text x="52.20" y="255.50" font-size="12" text-anchor="end" font-weight="normal" >-15</text>
<line x1="62.80" y1="215.90" x2="67.00" y2="215.90" stroke="#000" stroke-width="1.3"/>
<line x1="62.80" y1="239.50" x2="67.00" y2="239.50" stroke="#000" stroke-width="1.3"/>
<text transform="translate(10.80,219.70) rotate(-90)" font-size="12" text-anchor="middle">Head velocity</text>
<text transform="translate(26.30,219.70) rotate(-90)" font-size="12" text-anchor="middle">(deg/s)</text>
<line x1="67.00" y1="264.55" x2="67.00" y2="336.05" stroke="#000" stroke-width="1.3"/>
<line x1="58.40" y1="265.20" x2="67.00" y2="265.20" stroke="#000" stroke-width="1.3"/>
<text x="52.20" y="269.50" font-size="12" text-anchor="end" font-weight="normal" >80</text>
<line x1="58.40" y1="288.60" x2="67.00" y2="288.60" stroke="#000" stroke-width="1.3"/>
<text x="52.20" y="292.90" font-size="12" text-anchor="end" font-weight="normal" >60</text>
<line x1="58.40" y1="312.00" x2="67.00" y2="312.00" stroke="#000" stroke-width="1.3"/>
<text x="52.20" y="316.30" font-size="12" text-anchor="end" font-weight="normal" >40</text>
<line x1="58.40" y1="335.40" x2="67.00" y2="335.40" stroke="#000" stroke-width="1.3"/>
<text x="52.20" y="339.70" font-size="12" text-anchor="end" font-weight="normal" >20</text>
<line x1="62.80" y1="276.90" x2="67.00" y2="276.90" stroke="#000" stroke-width="1.3"/>
<line x1="62.80" y1="300.30" x2="67.00" y2="300.30" stroke="#000" stroke-width="1.3"/>
<line x1="62.80" y1="323.70" x2="67.00" y2="323.70" stroke="#000" stroke-width="1.3"/>
<text transform="translate(10.60,300.00) rotate(-90)" font-size="12" text-anchor="middle">Firing</text>
<text transform="translate(26.30,300.30) rotate(-90)" font-size="12" text-anchor="middle">(spike/s)</text>
<line x1="66.35" y1="335.40" x2="357.35" y2="335.40" stroke="#000" stroke-width="1.3"/>
<line x1="89.00" y1="335.40" x2="89.00" y2="344.00" stroke="#000" stroke-width="1.3"/>
<line x1="133.60" y1="335.40" x2="133.60" y2="344.00" stroke="#000" stroke-width="1.3"/>
<line x1="178.20" y1="335.40" x2="178.20" y2="344.00" stroke="#000" stroke-width="1.3"/>
<line x1="222.80" y1="335.40" x2="222.80" y2="344.00" stroke="#000" stroke-width="1.3"/>
<line x1="267.40" y1="335.40" x2="267.40" y2="344.00" stroke="#000" stroke-width="1.3"/>
<line x1="312.00" y1="335.40" x2="312.00" y2="344.00" stroke="#000" stroke-width="1.3"/>
<line x1="356.60" y1="335.40" x2="356.60" y2="344.00" stroke="#000" stroke-width="1.3"/>
<line x1="66.70" y1="335.40" x2="66.70" y2="339.20" stroke="#000" stroke-width="1.3"/>
<line x1="111.30" y1="335.40" x2="111.30" y2="339.20" stroke="#000" stroke-width="1.3"/>
<line x1="155.90" y1="335.40" x2="155.90" y2="339.20" stroke="#000" stroke-width="1.3"/>
<line x1="200.50" y1="335.40" x2="200.50" y2="339.20" stroke="#000" stroke-width="1.3"/>
<line x1="245.10" y1="335.40" x2="245.10" y2="339.20" stroke="#000" stroke-width="1.3"/>
<line x1="289.70" y1="335.40" x2="289.70" y2="339.20" stroke="#000" stroke-width="1.3"/>
<line x1="334.30" y1="335.40" x2="334.30" y2="339.20" stroke="#000" stroke-width="1.3"/>
<path d="M87.60,243.00 L88.10,242.94 L88.60,242.82 L89.10,242.64 L89.60,242.40 L90.10,242.10 L90.60,241.74 L91.10,241.32 L91.60,240.85 L92.10,240.32 L92.60,239.75 L93.10,239.12 L93.60,238.45 L94.10,237.73 L94.60,236.97 L95.10,236.17 L95.60,235.34 L96.10,234.47 L96.60,233.58 L97.10,232.67 L97.60,231.73 L98.10,230.77 L98.60,229.80 L99.10,228.83 L99.60,227.84 L100.10,226.86 L100.60,225.88 L101.10,224.90 L101.60,223.93 L102.10,222.98 L102.60,222.05 L103.10,221.14 L103.60,220.25 L104.10,219.39 L104.60,218.57 L105.10,217.78 L105.60,217.03 L106.10,216.32 L106.60,215.65 L107.10,215.03 L107.60,214.47 L108.10,213.95 L108.60,213.49 L109.10,213.08 L109.60,212.74 L110.10,212.45 L110.60,212.22 L111.10,212.05 L111.60,211.94 L112.10,211.90 L112.60,211.92 L113.10,212.02 L113.60,212.18 L114.10,212.41 L114.60,212.71 L115.10,213.08 L115.60,213.52 L116.10,214.02 L116.60,214.58 L117.10,215.20 L117.60,215.88 L118.10,216.61 L118.60,217.39 L119.10,218.22 L119.60,219.09 L120.10,220.00 L120.60,220.94 L121.10,221.91 L121.60,222.91 L122.10,223.93 L122.60,224.97 L123.10,226.02 L123.60,227.07 L124.10,228.13 L124.60,229.18 L125.10,230.23 L125.60,231.27 L126.10,232.29 L126.60,233.29 L127.10,234.26 L127.60,235.20 L128.10,236.11 L128.60,236.98 L129.10,237.81 L129.60,238.59 L130.10,239.32 L130.60,240.00 L131.10,240.62 L131.60,241.18 L132.10,241.68 L132.60,242.12 L133.10,242.49 L133.60,242.79 L134.10,243.02 L134.60,243.18 L135.10,243.28 L135.60,243.30 L136.10,243.26 L136.60,243.15 L137.10,242.99 L137.60,242.77 L138.10,242.49 L138.60,242.15 L139.10,241.76 L139.60,241.31 L140.10,240.81 L140.60,240.26 L141.10,239.66 L141.60,239.02 L142.10,238.33 L142.60,237.60 L143.10,236.83 L143.60,236.02 L144.10,235.19 L144.60,234.32 L145.10,233.43 L145.60,232.52 L146.10,231.59 L146.60,230.64 L147.10,229.68 L147.60,228.72 L148.10,227.75 L148.60,226.78 L149.10,225.82 L149.60,224.86 L150.10,223.91 L150.60,222.98 L151.10,222.07 L151.60,221.18 L152.10,220.31 L152.60,219.48 L153.10,218.67 L153.60,217.90 L154.10,217.17 L154.60,216.48 L155.10,215.84 L155.60,215.24 L156.10,214.69 L156.60,214.19 L157.10,213.74 L157.60,213.35 L158.10,213.01 L158.60,212.73 L159.10,212.51 L159.60,212.35 L160.10,212.24 L160.60,212.20 L161.10,212.22 L161.60,212.30 L162.10,212.44 L162.60,212.64 L163.10,212.90 L163.60,213.21 L164.10,213.59 L164.60,214.01 L165.10,214.49 L165.60,215.03 L166.10,215.60 L166.60,216.23 L167.10,216.90 L167.60,217.61 L168.10,218.35 L168.60,219.13 L169.10,219.94 L169.60,220.77 L170.10,221.63 L170.60,222.51 L171.10,223.40 L171.60,224.30 L172.10,225.21 L172.60,226.12 L173.10,227.03 L173.60,227.94 L174.10,228.84 L174.60,229.72 L175.10,230.59 L175.60,231.43 L176.10,232.25 L176.60,233.04 L177.10,233.80 L177.60,234.52 L178.10,235.21 L178.60,235.85 L179.10,236.45 L179.60,237.00 L180.10,237.50 L180.60,237.95 L181.10,238.34 L181.60,238.68 L182.10,238.97 L182.60,239.19 L183.10,239.35 L183.60,239.46 L184.10,239.50 L184.60,239.48 L185.10,239.41 L185.60,239.28 L186.10,239.09 L186.60,238.84 L187.10,238.54 L187.60,238.19 L188.10,237.79 L188.60,237.33 L189.10,236.83 L189.60,236.28 L190.10,235.69 L190.60,235.06 L191.10,234.38 L191.60,233.67 L192.10,232.93 L192.60,232.16 L193.10,231.36 L193.60,230.54 L194.10,229.69 L194.60,228.83 L195.10,227.96 L195.60,227.08 L196.10,226.19 L196.60,225.31 L197.10,224.42 L197.60,223.54 L198.10,222.67 L198.60,221.81 L199.10,220.96 L199.60,220.14 L200.10,219.34 L200.60,218.57 L201.10,217.83 L201.60,217.12 L202.10,216.44 L202.60,215.81 L203.10,215.22 L203.60,214.67 L204.10,214.17 L204.60,213.71 L205.10,213.31 L205.60,212.96 L206.10,212.66 L206.60,212.41 L207.10,212.22 L207.60,212.09 L208.10,212.02 L208.60,212.00 L209.10,212.04 L209.60,212.15 L210.10,212.32 L210.60,212.54 L211.10,212.83 L211.60,213.18 L212.10,213.58 L212.60,214.03 L213.10,214.54 L213.60,215.10 L214.10,215.71 L214.60,216.36 L215.10,217.06 L215.60,217.79 L216.10,218.56 L216.60,219.36 L217.10,220.19 L217.60,221.05 L218.10,221.92 L218.60,222.82 L219.10,223.72 L219.60,224.64 L220.10,225.56 L220.60,226.48 L221.10,227.39 L221.60,228.30 L222.10,229.20 L222.60,230.08 L223.10,230.94 L223.60,231.77 L224.10,232.58 L224.60,233.36 L225.10,234.10 L225.60,234.80 L226.10,235.46 L226.60,236.08 L227.10,236.65 L227.60,237.17 L228.10,237.64 L228.60,238.05 L229.10,238.41 L229.60,238.70 L230.10,238.94 L230.60,239.12 L231.10,239.24 L231.60,239.30 L232.10,239.29 L232.60,239.23 L233.10,239.10 L233.60,238.93 L234.10,238.69 L234.60,238.40 L235.10,238.06 L235.60,237.66 L236.10,237.21 L236.60,236.71 L237.10,236.17 L237.60,235.58 L238.10,234.94 L238.60,234.27 L239.10,233.56 L239.60,232.81 L240.10,232.03 L240.60,231.22 L241.10,230.38 L241.60,229.53 L242.10,228.65 L242.60,227.76 L243.10,226.85 L243.60,225.94 L244.10,225.02 L244.60,224.10 L245.10,223.18 L245.60,222.27 L246.10,221.36 L246.60,220.47 L247.10,219.60 L247.60,218.75 L248.10,217.92 L248.60,217.11 L249.10,216.34 L249.60,215.60 L250.10,214.89 L250.60,214.23 L251.10,213.60 L251.60,213.02 L252.10,212.48 L252.60,211.99 L253.10,211.56 L253.60,211.17 L254.10,210.84 L254.60,210.56 L255.10,210.33 L255.60,210.17 L256.10,210.06 L256.60,210.00 L257.10,210.01 L257.60,210.08 L258.10,210.22 L258.60,210.42 L259.10,210.68 L259.60,211.01 L260.10,211.40 L260.60,211.84 L261.10,212.34 L261.60,212.90 L262.10,213.51 L262.60,214.17 L263.10,214.88 L263.60,215.63 L264.10,216.42 L264.60,217.25 L265.10,218.11 L265.60,219.00 L266.10,219.92 L266.60,220.86 L267.10,221.82 L267.60,222.79 L268.10,223.77 L268.60,224.75 L269.10,225.74 L269.60,226.72 L270.10,227.70 L270.60,228.66 L271.10,229.61 L271.60,230.53 L272.10,231.44 L272.60,232.31 L273.10,233.15 L273.60,233.96 L274.10,234.73 L274.60,235.45 L275.10,236.13 L275.60,236.76 L276.10,237.34 L276.60,237.86 L277.10,238.33 L277.60,238.74 L278.10,239.09 L278.60,239.38 L279.10,239.61 L279.60,239.77 L280.10,239.87 L280.60,239.90 L281.10,239.87 L281.60,239.79 L282.10,239.65 L282.60,239.46 L283.10,239.22 L283.60,238.92 L284.10,238.58 L284.60,238.18 L285.10,237.73 L285.60,237.24 L286.10,236.70 L286.60,236.12 L287.10,235.50 L287.60,234.84 L288.10,234.14 L288.60,233.41 L289.10,232.64 L289.60,231.85 L290.10,231.03 L290.60,230.19 L291.10,229.33 L291.60,228.45 L292.10,227.56 L292.60,226.66 L293.10,225.75 L293.60,224.83 L294.10,223.92 L294.60,223.01 L295.10,222.10 L295.60,221.21 L296.10,220.32 L296.60,219.45 L297.10,218.60 L297.60,217.78 L298.10,216.97 L298.60,216.20 L299.10,215.45 L299.60,214.74 L300.10,214.06 L300.60,213.42 L301.10,212.83 L301.60,212.27 L302.10,211.76 L302.60,211.29 L303.10,210.88 L303.60,210.51 L304.10,210.19 L304.60,209.93 L305.10,209.72 L305.60,209.56 L306.10,209.45 L306.60,209.40 L307.10,209.41 L307.60,209.47 L308.10,209.60 L308.60,209.78 L309.10,210.02 L309.60,210.31 L310.10,210.66 L310.60,211.06 L311.10,211.51 L311.60,212.02 L312.10,212.57 L312.60,213.17 L313.10,213.81 L313.60,214.50 L314.10,215.22 L314.60,215.98 L315.10,216.77 L315.60,217.59 L316.10,218.43 L316.60,219.31 L317.10,220.20 L317.60,221.10 L318.10,222.02 L318.60,222.95 L319.10,223.88 L319.60,224.82 L320.10,225.75 L320.60,226.68 L321.10,227.60 L321.60,228.50 L322.10,229.39 L322.60,230.27 L323.10,231.11 L323.60,231.93 L324.10,232.72 L324.60,233.48 L325.10,234.20 L325.60,234.89 L326.10,235.53 L326.60,236.13 L327.10,236.68 L327.60,237.19 L328.10,237.64 L328.60,238.04 L329.10,238.39 L329.60,238.68 L330.10,238.92 L330.60,239.10 L331.10,239.23 L331.60,239.29 L332.10,239.30 L332.60,239.24 L333.10,239.12 L333.60,238.94 L334.10,238.70" fill="none" stroke="#000" stroke-width="2.35" stroke-linejoin="round" stroke-linecap="round"/>
<g fill="#000"><circle cx="88.3" cy="302.3" r="1.7"/><circle cx="89.5" cy="300.1" r="1.7"/><circle cx="89.9" cy="302.9" r="1.7"/><circle cx="90.9" cy="296.7" r="1.7"/><circle cx="92.4" cy="293.6" r="1.7"/><circle cx="93.6" cy="293.6" r="1.7"/><circle cx="94.5" cy="293.0" r="1.7"/><circle cx="95.8" cy="291.9" r="1.7"/><circle cx="96.0" cy="289.9" r="1.7"/><circle cx="97.0" cy="299.5" r="1.7"/><circle cx="98.5" cy="296.0" r="1.7"/><circle cx="98.8" cy="297.3" r="1.7"/><circle cx="100.5" cy="299.4" r="1.7"/><circle cx="101.3" cy="306.0" r="1.7"/><circle cx="102.7" cy="302.5" r="1.7"/><circle cx="103.3" cy="306.7" r="1.7"/><circle cx="104.6" cy="304.4" r="1.7"/><circle cx="105.2" cy="302.7" r="1.7"/><circle cx="105.8" cy="307.7" r="1.7"/><circle cx="107.6" cy="304.6" r="1.7"/><circle cx="108.7" cy="302.3" r="1.7"/><circle cx="109.3" cy="299.8" r="1.7"/><circle cx="110.6" cy="299.4" r="1.7"/><circle cx="110.6" cy="304.8" r="1.7"/><circle cx="112.3" cy="305.4" r="1.7"/><circle cx="113.0" cy="301.9" r="1.7"/><circle cx="113.6" cy="305.1" r="1.7"/><circle cx="114.6" cy="305.8" r="1.7"/><circle cx="115.7" cy="299.5" r="1.7"/><circle cx="116.6" cy="308.8" r="1.7"/><circle cx="118.1" cy="307.5" r="1.7"/><circle cx="118.8" cy="299.1" r="1.7"/><circle cx="119.9" cy="306.8" r="1.7"/><circle cx="120.6" cy="304.3" r="1.7"/><circle cx="121.7" cy="302.2" r="1.7"/><circle cx="122.4" cy="302.7" r="1.7"/><circle cx="123.8" cy="308.2" r="1.7"/><circle cx="125.0" cy="301.6" r="1.7"/><circle cx="126.2" cy="307.0" r="1.7"/><circle cx="127.4" cy="298.8" r="1.7"/><circle cx="127.8" cy="305.5" r="1.7"/><circle cx="128.4" cy="304.4" r="1.7"/><circle cx="129.6" cy="300.6" r="1.7"/><circle cx="130.3" cy="301.9" r="1.7"/><circle cx="131.4" cy="307.4" r="1.7"/><circle cx="133.0" cy="301.9" r="1.7"/><circle cx="133.6" cy="299.7" r="1.7"/><circle cx="135.3" cy="302.0" r="1.7"/><circle cx="135.8" cy="302.0" r="1.7"/><circle cx="136.6" cy="301.4" r="1.7"/><circle cx="138.2" cy="308.4" r="1.7"/><circle cx="138.8" cy="301.7" r="1.7"/><circle cx="139.8" cy="284.1" r="1.7"/><circle cx="141.2" cy="298.9" r="1.7"/><circle cx="141.5" cy="303.2" r="1.7"/><circle cx="142.8" cy="305.3" r="1.7"/><circle cx="143.5" cy="304.0" r="1.7"/><circle cx="145.1" cy="291.9" r="1.7"/><circle cx="146.1" cy="301.1" r="1.7"/><circle cx="146.5" cy="307.7" r="1.7"/><circle cx="147.1" cy="300.2" r="1.7"/><circle cx="149.2" cy="305.4" r="1.7"/><circle cx="150.2" cy="303.4" r="1.7"/><circle cx="150.3" cy="299.6" r="1.7"/><circle cx="151.2" cy="295.6" r="1.7"/><circle cx="153.0" cy="295.5" r="1.7"/><circle cx="153.8" cy="304.4" r="1.7"/><circle cx="155.0" cy="302.6" r="1.7"/><circle cx="155.8" cy="302.7" r="1.7"/><circle cx="156.3" cy="305.3" r="1.7"/><circle cx="158.1" cy="293.8" r="1.7"/><circle cx="158.8" cy="304.6" r="1.7"/><circle cx="159.0" cy="304.8" r="1.7"/><circle cx="160.0" cy="296.7" r="1.7"/><circle cx="162.0" cy="297.9" r="1.7"/><circle cx="162.0" cy="306.4" r="1.7"/><circle cx="164.0" cy="293.2" r="1.7"/><circle cx="164.3" cy="299.3" r="1.7"/><circle cx="165.8" cy="300.7" r="1.7"/><circle cx="166.1" cy="303.5" r="1.7"/><circle cx="167.1" cy="305.7" r="1.7"/><circle cx="168.2" cy="306.2" r="1.7"/><circle cx="169.4" cy="295.0" r="1.7"/><circle cx="170.3" cy="304.8" r="1.7"/><circle cx="171.3" cy="298.0" r="1.7"/><circle cx="171.7" cy="302.3" r="1.7"/><circle cx="172.9" cy="301.1" r="1.7"/><circle cx="174.1" cy="297.8" r="1.7"/><circle cx="175.3" cy="305.2" r="1.7"/><circle cx="175.9" cy="304.4" r="1.7"/><circle cx="177.6" cy="296.7" r="1.7"/><circle cx="178.7" cy="299.6" r="1.7"/><circle cx="179.3" cy="296.7" r="1.7"/><circle cx="180.1" cy="301.1" r="1.7"/><circle cx="181.2" cy="299.3" r="1.7"/><circle cx="182.7" cy="295.0" r="1.7"/><circle cx="183.2" cy="302.1" r="1.7"/><circle cx="183.7" cy="299.7" r="1.7"/><circle cx="184.6" cy="305.3" r="1.7"/><circle cx="186.4" cy="302.8" r="1.7"/><circle cx="186.7" cy="299.7" r="1.7"/><circle cx="188.5" cy="298.8" r="1.7"/><circle cx="188.7" cy="297.3" r="1.7"/><circle cx="190.6" cy="302.1" r="1.7"/><circle cx="190.6" cy="297.0" r="1.7"/><circle cx="191.7" cy="299.4" r="1.7"/><circle cx="193.3" cy="293.2" r="1.7"/><circle cx="193.4" cy="298.2" r="1.7"/><circle cx="195.1" cy="307.5" r="1.7"/><circle cx="196.3" cy="302.7" r="1.7"/><circle cx="196.5" cy="304.5" r="1.7"/><circle cx="197.7" cy="300.5" r="1.7"/><circle cx="198.8" cy="300.2" r="1.7"/><circle cx="199.5" cy="297.0" r="1.7"/><circle cx="201.0" cy="300.2" r="1.7"/><circle cx="202.1" cy="299.9" r="1.7"/><circle cx="202.4" cy="295.5" r="1.7"/><circle cx="203.4" cy="295.1" r="1.7"/><circle cx="204.3" cy="296.7" r="1.7"/><circle cx="205.9" cy="300.2" r="1.7"/><circle cx="206.5" cy="296.9" r="1.7"/><circle cx="207.3" cy="298.8" r="1.7"/><circle cx="208.2" cy="298.0" r="1.7"/><circle cx="210.1" cy="301.3" r="1.7"/><circle cx="210.8" cy="298.3" r="1.7"/><circle cx="211.4" cy="299.5" r="1.7"/><circle cx="213.0" cy="299.6" r="1.7"/><circle cx="214.2" cy="301.5" r="1.7"/><circle cx="215.1" cy="291.9" r="1.7"/><circle cx="215.6" cy="298.3" r="1.7"/><circle cx="216.9" cy="295.0" r="1.7"/><circle cx="217.9" cy="303.5" r="1.7"/><circle cx="218.5" cy="300.1" r="1.7"/><circle cx="219.1" cy="299.2" r="1.7"/><circle cx="220.3" cy="304.1" r="1.7"/><circle cx="222.0" cy="302.2" r="1.7"/><circle cx="222.3" cy="298.2" r="1.7"/><circle cx="223.2" cy="302.6" r="1.7"/><circle cx="224.3" cy="303.4" r="1.7"/><circle cx="225.2" cy="298.8" r="1.7"/><circle cx="226.3" cy="302.6" r="1.7"/><circle cx="227.5" cy="299.4" r="1.7"/><circle cx="228.1" cy="301.8" r="1.7"/><circle cx="229.0" cy="299.4" r="1.7"/><circle cx="229.9" cy="297.8" r="1.7"/><circle cx="231.6" cy="301.4" r="1.7"/><circle cx="232.7" cy="297.7" r="1.7"/><circle cx="233.3" cy="292.7" r="1.7"/><circle cx="235.0" cy="298.3" r="1.7"/><circle cx="234.9" cy="294.5" r="1.7"/><circle cx="236.9" cy="298.8" r="1.7"/><circle cx="236.9" cy="293.6" r="1.7"/><circle cx="238.4" cy="301.7" r="1.7"/><circle cx="239.5" cy="294.3" r="1.7"/><circle cx="240.6" cy="300.2" r="1.7"/><circle cx="240.9" cy="301.0" r="1.7"/><circle cx="241.8" cy="296.2" r="1.7"/><circle cx="243.4" cy="299.1" r="1.7"/><circle cx="244.3" cy="303.8" r="1.7"/><circle cx="245.3" cy="296.0" r="1.7"/><circle cx="246.4" cy="301.1" r="1.7"/><circle cx="246.7" cy="298.9" r="1.7"/><circle cx="248.5" cy="301.1" r="1.7"/><circle cx="249.2" cy="293.1" r="1.7"/><circle cx="250.2" cy="302.5" r="1.7"/><circle cx="251.4" cy="297.5" r="1.7"/><circle cx="251.7" cy="301.8" r="1.7"/><circle cx="253.2" cy="296.7" r="1.7"/><circle cx="253.6" cy="299.5" r="1.7"/><circle cx="255.3" cy="297.4" r="1.7"/><circle cx="256.1" cy="300.1" r="1.7"/><circle cx="257.6" cy="302.0" r="1.7"/><circle cx="258.7" cy="305.1" r="1.7"/><circle cx="259.5" cy="301.9" r="1.7"/><circle cx="260.0" cy="303.4" r="1.7"/><circle cx="260.7" cy="308.9" r="1.7"/><circle cx="261.6" cy="303.1" r="1.7"/><circle cx="263.4" cy="300.8" r="1.7"/><circle cx="264.5" cy="302.1" r="1.7"/><circle cx="265.0" cy="314.0" r="1.7"/><circle cx="265.4" cy="298.6" r="1.7"/><circle cx="266.5" cy="302.0" r="1.7"/><circle cx="267.7" cy="306.4" r="1.7"/><circle cx="269.3" cy="301.1" r="1.7"/><circle cx="270.4" cy="303.1" r="1.7"/><circle cx="270.7" cy="299.4" r="1.7"/><circle cx="272.5" cy="298.5" r="1.7"/><circle cx="272.6" cy="305.5" r="1.7"/><circle cx="273.4" cy="298.8" r="1.7"/><circle cx="274.5" cy="307.6" r="1.7"/><circle cx="275.8" cy="294.5" r="1.7"/><circle cx="277.3" cy="305.6" r="1.7"/><circle cx="278.0" cy="303.6" r="1.7"/><circle cx="279.1" cy="296.9" r="1.7"/><circle cx="280.1" cy="299.6" r="1.7"/><circle cx="280.5" cy="290.9" r="1.7"/><circle cx="282.3" cy="296.8" r="1.7"/><circle cx="282.5" cy="300.3" r="1.7"/><circle cx="284.3" cy="298.4" r="1.7"/><circle cx="284.8" cy="297.7" r="1.7"/><circle cx="285.3" cy="301.8" r="1.7"/><circle cx="286.7" cy="306.9" r="1.7"/><circle cx="288.1" cy="298.6" r="1.7"/><circle cx="288.3" cy="300.9" r="1.7"/><circle cx="289.4" cy="300.6" r="1.7"/><circle cx="290.7" cy="303.1" r="1.7"/><circle cx="291.9" cy="297.6" r="1.7"/><circle cx="292.4" cy="303.1" r="1.7"/><circle cx="293.1" cy="302.9" r="1.7"/><circle cx="294.6" cy="301.3" r="1.7"/><circle cx="296.0" cy="301.7" r="1.7"/><circle cx="296.4" cy="304.5" r="1.7"/><circle cx="298.1" cy="303.0" r="1.7"/><circle cx="297.9" cy="302.0" r="1.7"/><circle cx="300.0" cy="302.9" r="1.7"/><circle cx="300.3" cy="302.9" r="1.7"/><circle cx="301.9" cy="305.1" r="1.7"/><circle cx="302.0" cy="302.3" r="1.7"/><circle cx="303.5" cy="307.3" r="1.7"/><circle cx="304.6" cy="300.5" r="1.7"/><circle cx="305.4" cy="307.6" r="1.7"/><circle cx="306.1" cy="303.5" r="1.7"/><circle cx="307.6" cy="303.6" r="1.7"/><circle cx="308.5" cy="303.5" r="1.7"/><circle cx="308.9" cy="297.5" r="1.7"/><circle cx="310.2" cy="300.9" r="1.7"/><circle cx="311.4" cy="299.6" r="1.7"/><circle cx="312.9" cy="305.3" r="1.7"/><circle cx="313.8" cy="302.3" r="1.7"/><circle cx="314.8" cy="304.6" r="1.7"/><circle cx="315.0" cy="293.3" r="1.7"/><circle cx="316.2" cy="302.5" r="1.7"/><circle cx="317.4" cy="302.7" r="1.7"/><circle cx="318.0" cy="303.5" r="1.7"/><circle cx="319.4" cy="304.4" r="1.7"/><circle cx="320.2" cy="297.9" r="1.7"/><circle cx="321.7" cy="303.1" r="1.7"/><circle cx="321.8" cy="300.0" r="1.7"/><circle cx="322.9" cy="299.5" r="1.7"/><circle cx="323.8" cy="301.2" r="1.7"/><circle cx="325.3" cy="302.3" r="1.7"/><circle cx="325.8" cy="302.7" r="1.7"/><circle cx="326.7" cy="302.6" r="1.7"/><circle cx="328.6" cy="299.9" r="1.7"/><circle cx="329.3" cy="300.9" r="1.7"/><circle cx="329.7" cy="297.0" r="1.7"/><circle cx="331.3" cy="294.7" r="1.7"/><circle cx="331.9" cy="294.8" r="1.7"/><circle cx="332.6" cy="296.3" r="1.7"/><circle cx="334.5" cy="299.9" r="1.7"/><circle cx="216.0" cy="283.8" r="1.7"/><circle cx="217.0" cy="286.5" r="1.7"/><circle cx="114.0" cy="312.6" r="1.7"/><circle cx="167.0" cy="313.5" r="1.7"/><circle cx="201.0" cy="306.5" r="1.7"/><circle cx="308.0" cy="313.5" r="1.7"/><circle cx="262.0" cy="313.0" r="1.7"/><circle cx="324.0" cy="288.0" r="1.7"/></g>
<text x="203.70" y="393.70" font-size="13.0" text-anchor="middle" font-weight="normal" >216AA + ASO-29</text>
<line x1="67.00" y1="398.95" x2="67.00" y2="447.15" stroke="#000" stroke-width="1.3"/>
<line x1="58.40" y1="399.60" x2="67.00" y2="399.60" stroke="#000" stroke-width="1.3"/>
<text x="52.20" y="403.90" font-size="12" text-anchor="end" font-weight="normal" >15</text>
<line x1="58.40" y1="423.10" x2="67.00" y2="423.10" stroke="#000" stroke-width="1.3"/>
<text x="52.20" y="427.40" font-size="12" text-anchor="end" font-weight="normal" >0</text>
<line x1="58.40" y1="446.50" x2="67.00" y2="446.50" stroke="#000" stroke-width="1.3"/>
<text x="52.20" y="450.80" font-size="12" text-anchor="end" font-weight="normal" >-15</text>
<line x1="62.80" y1="411.50" x2="67.00" y2="411.50" stroke="#000" stroke-width="1.3"/>
<line x1="62.80" y1="435.00" x2="67.00" y2="435.00" stroke="#000" stroke-width="1.3"/>
<text transform="translate(10.80,419.60) rotate(-90)" font-size="12" text-anchor="middle">Head velocity</text>
<text transform="translate(26.30,419.60) rotate(-90)" font-size="12" text-anchor="middle">(deg/s)</text>
<line x1="67.00" y1="458.47" x2="67.00" y2="530.45" stroke="#000" stroke-width="1.3"/>
<line x1="58.40" y1="470.90" x2="67.00" y2="470.90" stroke="#000" stroke-width="1.3"/>
<text x="52.20" y="475.20" font-size="12" text-anchor="end" font-weight="normal" >100</text>
<line x1="58.40" y1="494.46" x2="67.00" y2="494.46" stroke="#000" stroke-width="1.3"/>
<text x="52.20" y="498.76" font-size="12" text-anchor="end" font-weight="normal" >80</text>
<line x1="58.40" y1="518.02" x2="67.00" y2="518.02" stroke="#000" stroke-width="1.3"/>
<text x="52.20" y="522.32" font-size="12" text-anchor="end" font-weight="normal" >60</text>
<line x1="62.80" y1="459.12" x2="67.00" y2="459.12" stroke="#000" stroke-width="1.3"/>
<line x1="62.80" y1="482.68" x2="67.00" y2="482.68" stroke="#000" stroke-width="1.3"/>
<line x1="62.80" y1="506.24" x2="67.00" y2="506.24" stroke="#000" stroke-width="1.3"/>
<text transform="translate(10.60,503.30) rotate(-90)" font-size="12" text-anchor="middle">Firing</text>
<text transform="translate(26.30,503.30) rotate(-90)" font-size="12" text-anchor="middle">(spike/s)</text>
<line x1="66.35" y1="529.80" x2="357.35" y2="529.80" stroke="#000" stroke-width="1.3"/>
<line x1="89.00" y1="529.80" x2="89.00" y2="538.40" stroke="#000" stroke-width="1.3"/>
<text x="89.00" y="553.30" font-size="12" text-anchor="middle" font-weight="normal" >0</text>
<line x1="133.60" y1="529.80" x2="133.60" y2="538.40" stroke="#000" stroke-width="1.3"/>
<text x="133.60" y="553.30" font-size="12" text-anchor="middle" font-weight="normal" >1</text>
<line x1="178.20" y1="529.80" x2="178.20" y2="538.40" stroke="#000" stroke-width="1.3"/>
<text x="178.20" y="553.30" font-size="12" text-anchor="middle" font-weight="normal" >2</text>
<line x1="222.80" y1="529.80" x2="222.80" y2="538.40" stroke="#000" stroke-width="1.3"/>
<text x="222.80" y="553.30" font-size="12" text-anchor="middle" font-weight="normal" >3</text>
<line x1="267.40" y1="529.80" x2="267.40" y2="538.40" stroke="#000" stroke-width="1.3"/>
<text x="267.40" y="553.30" font-size="12" text-anchor="middle" font-weight="normal" >4</text>
<line x1="312.00" y1="529.80" x2="312.00" y2="538.40" stroke="#000" stroke-width="1.3"/>
<text x="312.00" y="553.30" font-size="12" text-anchor="middle" font-weight="normal" >5</text>
<line x1="356.60" y1="529.80" x2="356.60" y2="538.40" stroke="#000" stroke-width="1.3"/>
<text x="356.60" y="553.30" font-size="12" text-anchor="middle" font-weight="normal" >6</text>
<line x1="66.70" y1="529.80" x2="66.70" y2="533.60" stroke="#000" stroke-width="1.3"/>
<line x1="111.30" y1="529.80" x2="111.30" y2="533.60" stroke="#000" stroke-width="1.3"/>
<line x1="155.90" y1="529.80" x2="155.90" y2="533.60" stroke="#000" stroke-width="1.3"/>
<line x1="200.50" y1="529.80" x2="200.50" y2="533.60" stroke="#000" stroke-width="1.3"/>
<line x1="245.10" y1="529.80" x2="245.10" y2="533.60" stroke="#000" stroke-width="1.3"/>
<line x1="289.70" y1="529.80" x2="289.70" y2="533.60" stroke="#000" stroke-width="1.3"/>
<line x1="334.30" y1="529.80" x2="334.30" y2="533.60" stroke="#000" stroke-width="1.3"/>
<text x="198.30" y="567.70" font-size="12" text-anchor="middle" font-weight="normal" >Time (s)</text>
<path d="M88.00,437.20 L88.50,437.15 L89.00,437.02 L89.50,436.82 L90.00,436.54 L90.50,436.19 L91.00,435.77 L91.50,435.29 L92.00,434.73 L92.50,434.12 L93.00,433.44 L93.50,432.71 L94.00,431.92 L94.50,431.08 L95.00,430.20 L95.50,429.27 L96.00,428.31 L96.50,427.32 L97.00,426.30 L97.50,425.25 L98.00,424.19 L98.50,423.12 L99.00,422.03 L99.50,420.95 L100.00,419.87 L100.50,418.80 L101.00,417.74 L101.50,416.70 L102.00,415.68 L102.50,414.69 L103.00,413.74 L103.50,412.82 L104.00,411.95 L104.50,411.12 L105.00,410.34 L105.50,409.62 L106.00,408.95 L106.50,408.35 L107.00,407.81 L107.50,407.34 L108.00,406.93 L108.50,406.60 L109.00,406.34 L109.50,406.15 L110.00,406.04 L110.50,406.00 L111.00,406.04 L111.50,406.15 L112.00,406.35 L112.50,406.61 L113.00,406.95 L113.50,407.37 L114.00,407.85 L114.50,408.40 L115.00,409.02 L115.50,409.70 L116.00,410.44 L116.50,411.23 L117.00,412.08 L117.50,412.97 L118.00,413.90 L118.50,414.87 L119.00,415.88 L119.50,416.91 L120.00,417.97 L120.50,419.04 L121.00,420.13 L121.50,421.22 L122.00,422.32 L122.50,423.41 L123.00,424.49 L123.50,425.56 L124.00,426.60 L124.50,427.63 L125.00,428.62 L125.50,429.58 L126.00,430.49 L126.50,431.37 L127.00,432.19 L127.50,432.96 L128.00,433.68 L128.50,434.33 L129.00,434.92 L129.50,435.45 L130.00,435.91 L130.50,436.29 L131.00,436.60 L131.50,436.84 L132.00,437.00 L132.50,437.09 L133.00,437.09 L133.50,437.03 L134.00,436.90 L134.50,436.71 L135.00,436.44 L135.50,436.11 L136.00,435.72 L136.50,435.26 L137.00,434.75 L137.50,434.17 L138.00,433.54 L138.50,432.86 L139.00,432.13 L139.50,431.35 L140.00,430.53 L140.50,429.66 L141.00,428.77 L141.50,427.84 L142.00,426.88 L142.50,425.90 L143.00,424.89 L143.50,423.88 L144.00,422.85 L144.50,421.81 L145.00,420.78 L145.50,419.75 L146.00,418.72 L146.50,417.70 L147.00,416.71 L147.50,415.73 L148.00,414.78 L148.50,413.85 L149.00,412.96 L149.50,412.10 L150.00,411.29 L150.50,410.52 L151.00,409.80 L151.50,409.13 L152.00,408.51 L152.50,407.94 L153.00,407.44 L153.50,407.00 L154.00,406.62 L154.50,406.30 L155.00,406.05 L155.50,405.87 L156.00,405.75 L156.50,405.70 L157.00,405.72 L157.50,405.82 L158.00,405.98 L158.50,406.22 L159.00,406.53 L159.50,406.91 L160.00,407.35 L160.50,407.86 L161.00,408.44 L161.50,409.07 L162.00,409.76 L162.50,410.51 L163.00,411.30 L163.50,412.15 L164.00,413.04 L164.50,413.96 L165.00,414.93 L165.50,415.92 L166.00,416.94 L166.50,417.99 L167.00,419.05 L167.50,420.12 L168.00,421.20 L168.50,422.28 L169.00,423.37 L169.50,424.44 L170.00,425.50 L170.50,426.55 L171.00,427.58 L171.50,428.58 L172.00,429.55 L172.50,430.48 L173.00,431.38 L173.50,432.23 L174.00,433.04 L174.50,433.79 L175.00,434.50 L175.50,435.14 L176.00,435.73 L176.50,436.25 L177.00,436.71 L177.50,437.10 L178.00,437.42 L178.50,437.67 L179.00,437.85 L179.50,437.96 L180.00,438.00 L180.50,437.96 L181.00,437.85 L181.50,437.67 L182.00,437.41 L182.50,437.09 L183.00,436.69 L183.50,436.23 L184.00,435.70 L184.50,435.11 L185.00,434.46 L185.50,433.76 L186.00,433.00 L186.50,432.19 L187.00,431.33 L187.50,430.44 L188.00,429.50 L188.50,428.54 L189.00,427.54 L189.50,426.53 L190.00,425.49 L190.50,424.44 L191.00,423.39 L191.50,422.33 L192.00,421.27 L192.50,420.22 L193.00,419.18 L193.50,418.16 L194.00,417.16 L194.50,416.19 L195.00,415.25 L195.50,414.34 L196.00,413.48 L196.50,412.66 L197.00,411.89 L197.50,411.17 L198.00,410.51 L198.50,409.91 L199.00,409.37 L199.50,408.89 L200.00,408.49 L200.50,408.15 L201.00,407.88 L201.50,407.68 L202.00,407.55 L202.50,407.50 L203.00,407.52 L203.50,407.61 L204.00,407.77 L204.50,408.00 L205.00,408.30 L205.50,408.66 L206.00,409.09 L206.50,409.58 L207.00,410.13 L207.50,410.73 L208.00,411.40 L208.50,412.11 L209.00,412.88 L209.50,413.69 L210.00,414.54 L210.50,415.44 L211.00,416.36 L211.50,417.32 L212.00,418.30 L212.50,419.31 L213.00,420.33 L213.50,421.37 L214.00,422.41 L214.50,423.46 L215.00,424.51 L215.50,425.55 L216.00,426.58 L216.50,427.60 L217.00,428.59 L217.50,429.57 L218.00,430.51 L218.50,431.43 L219.00,432.30 L219.50,433.14 L220.00,433.93 L220.50,434.68 L221.00,435.37 L221.50,436.02 L222.00,436.60 L222.50,437.13 L223.00,437.59 L223.50,437.99 L224.00,438.33 L224.50,438.60 L225.00,438.80 L225.50,438.93 L226.00,438.99 L226.50,438.99 L227.00,438.91 L227.50,438.76 L228.00,438.54 L228.50,438.26 L229.00,437.91 L229.50,437.49 L230.00,437.01 L230.50,436.46 L231.00,435.86 L231.50,435.21 L232.00,434.50 L232.50,433.74 L233.00,432.94 L233.50,432.09 L234.00,431.21 L234.50,430.29 L235.00,429.35 L235.50,428.38 L236.00,427.39 L236.50,426.39 L237.00,425.37 L237.50,424.35 L238.00,423.33 L238.50,422.32 L239.00,421.31 L239.50,420.32 L240.00,419.34 L240.50,418.39 L241.00,417.47 L241.50,416.58 L242.00,415.73 L242.50,414.92 L243.00,414.15 L243.50,413.43 L244.00,412.76 L244.50,412.15 L245.00,411.60 L245.50,411.10 L246.00,410.67 L246.50,410.31 L247.00,410.01 L247.50,409.78 L248.00,409.61 L248.50,409.52 L249.00,409.50 L249.50,409.56 L250.00,409.69 L250.50,409.90 L251.00,410.19 L251.50,410.55 L252.00,410.98 L252.50,411.49 L253.00,412.06 L253.50,412.70 L254.00,413.39 L254.50,414.15 L255.00,414.96 L255.50,415.81 L256.00,416.71 L256.50,417.64 L257.00,418.61 L257.50,419.61 L258.00,420.63 L258.50,421.66 L259.00,422.71 L259.50,423.76 L260.00,424.81 L260.50,425.85 L261.00,426.88 L261.50,427.89 L262.00,428.88 L262.50,429.83 L263.00,430.76 L263.50,431.64 L264.00,432.47 L264.50,433.26 L265.00,433.99 L265.50,434.66 L266.00,435.28 L266.50,435.82 L267.00,436.30 L267.50,436.70 L268.00,437.04 L268.50,437.29 L269.00,437.47 L269.50,437.57 L270.00,437.60 L270.50,437.55 L271.00,437.43 L271.50,437.23 L272.00,436.97 L272.50,436.63 L273.00,436.23 L273.50,435.77 L274.00,435.24 L274.50,434.65 L275.00,434.00 L275.50,433.30 L276.00,432.55 L276.50,431.75 L277.00,430.91 L277.50,430.03 L278.00,429.11 L278.50,428.17 L279.00,427.19 L279.50,426.20 L280.00,425.19 L280.50,424.18 L281.00,423.15 L281.50,422.13 L282.00,421.11 L282.50,420.10 L283.00,419.10 L283.50,418.13 L284.00,417.18 L284.50,416.25 L285.00,415.36 L285.50,414.51 L286.00,413.71 L286.50,412.94 L287.00,412.23 L287.50,411.57 L288.00,410.97 L288.50,410.43 L289.00,409.95 L289.50,409.54 L290.00,409.19 L290.50,408.92 L291.00,408.71 L291.50,408.57 L292.00,408.51 L292.50,408.51 L293.00,408.59 L293.50,408.74 L294.00,408.96 L294.50,409.25 L295.00,409.60 L295.50,410.03 L296.00,410.51 L296.50,411.06 L297.00,411.66 L297.50,412.32 L298.00,413.04 L298.50,413.80 L299.00,414.60 L299.50,415.45 L300.00,416.33 L300.50,417.25 L301.00,418.19 L301.50,419.16 L302.00,420.14 L302.50,421.14 L303.00,422.15 L303.50,423.15 L304.00,424.16 L304.50,425.16 L305.00,426.15 L305.50,427.12 L306.00,428.06 L306.50,428.98 L307.00,429.88 L307.50,430.73 L308.00,431.54 L308.50,432.32 L309.00,433.04 L309.50,433.71 L310.00,434.33 L310.50,434.88 L311.00,435.38 L311.50,435.82 L312.00,436.19 L312.50,436.49 L313.00,436.72 L313.50,436.88 L314.00,436.98 L314.50,437.00 L315.00,436.95 L315.50,436.82 L316.00,436.62 L316.50,436.35 L317.00,436.01 L317.50,435.60 L318.00,435.13 L318.50,434.58" fill="none" stroke="#000" stroke-width="2.35" stroke-linejoin="round" stroke-linecap="round"/>
<g fill="#000"><circle cx="88.2" cy="491.1" r="1.7"/><circle cx="89.2" cy="503.6" r="1.7"/><circle cx="89.0" cy="495.4" r="1.7"/><circle cx="90.7" cy="499.5" r="1.7"/><circle cx="91.1" cy="494.3" r="1.7"/><circle cx="91.4" cy="494.0" r="1.7"/><circle cx="91.8" cy="495.4" r="1.7"/><circle cx="92.7" cy="494.9" r="1.7"/><circle cx="92.7" cy="502.4" r="1.7"/><circle cx="93.7" cy="492.6" r="1.7"/><circle cx="94.3" cy="490.1" r="1.7"/><circle cx="94.5" cy="502.3" r="1.7"/><circle cx="95.6" cy="501.4" r="1.7"/><circle cx="96.2" cy="500.7" r="1.7"/><circle cx="96.4" cy="493.5" r="1.7"/><circle cx="96.6" cy="498.2" r="1.7"/><circle cx="97.4" cy="494.4" r="1.7"/><circle cx="98.3" cy="489.5" r="1.7"/><circle cx="98.6" cy="507.7" r="1.7"/><circle cx="99.4" cy="490.5" r="1.7"/><circle cx="99.8" cy="503.1" r="1.7"/><circle cx="99.8" cy="490.9" r="1.7"/><circle cx="101.0" cy="507.3" r="1.7"/><circle cx="101.0" cy="504.6" r="1.7"/><circle cx="101.5" cy="501.0" r="1.7"/><circle cx="102.4" cy="498.3" r="1.7"/><circle cx="103.1" cy="509.9" r="1.7"/><circle cx="103.4" cy="490.8" r="1.7"/><circle cx="103.7" cy="498.4" r="1.7"/><circle cx="104.1" cy="499.1" r="1.7"/><circle cx="105.1" cy="507.3" r="1.7"/><circle cx="105.3" cy="500.2" r="1.7"/><circle cx="106.6" cy="489.8" r="1.7"/><circle cx="106.8" cy="496.5" r="1.7"/><circle cx="107.3" cy="499.6" r="1.7"/><circle cx="107.7" cy="491.5" r="1.7"/><circle cx="108.0" cy="498.8" r="1.7"/><circle cx="108.9" cy="491.6" r="1.7"/><circle cx="109.3" cy="499.5" r="1.7"/><circle cx="110.1" cy="494.2" r="1.7"/><circle cx="110.7" cy="490.8" r="1.7"/><circle cx="111.3" cy="488.6" r="1.7"/><circle cx="111.0" cy="483.5" r="1.7"/><circle cx="111.9" cy="481.6" r="1.7"/><circle cx="112.8" cy="489.8" r="1.7"/><circle cx="113.1" cy="495.5" r="1.7"/><circle cx="113.6" cy="491.9" r="1.7"/><circle cx="114.4" cy="489.5" r="1.7"/><circle cx="114.7" cy="491.5" r="1.7"/><circle cx="115.1" cy="486.5" r="1.7"/><circle cx="116.2" cy="486.4" r="1.7"/><circle cx="117.0" cy="491.2" r="1.7"/><circle cx="117.5" cy="483.0" r="1.7"/><circle cx="118.1" cy="492.0" r="1.7"/><circle cx="117.9" cy="483.1" r="1.7"/><circle cx="119.1" cy="485.6" r="1.7"/><circle cx="118.9" cy="488.5" r="1.7"/><circle cx="120.2" cy="479.8" r="1.7"/><circle cx="120.0" cy="487.3" r="1.7"/><circle cx="120.8" cy="482.7" r="1.7"/><circle cx="121.4" cy="488.9" r="1.7"/><circle cx="121.5" cy="485.1" r="1.7"/><circle cx="123.1" cy="475.8" r="1.7"/><circle cx="123.7" cy="491.2" r="1.7"/><circle cx="124.0" cy="483.4" r="1.7"/><circle cx="124.0" cy="481.5" r="1.7"/><circle cx="124.5" cy="480.7" r="1.7"/><circle cx="125.7" cy="482.6" r="1.7"/><circle cx="126.4" cy="495.1" r="1.7"/><circle cx="126.9" cy="481.2" r="1.7"/><circle cx="126.4" cy="487.9" r="1.7"/><circle cx="127.8" cy="489.3" r="1.7"/><circle cx="128.0" cy="482.4" r="1.7"/><circle cx="128.4" cy="483.1" r="1.7"/><circle cx="129.2" cy="484.7" r="1.7"/><circle cx="129.8" cy="489.5" r="1.7"/><circle cx="129.9" cy="494.7" r="1.7"/><circle cx="131.2" cy="481.2" r="1.7"/><circle cx="131.6" cy="491.9" r="1.7"/><circle cx="131.7" cy="489.5" r="1.7"/><circle cx="132.4" cy="488.9" r="1.7"/><circle cx="132.5" cy="488.7" r="1.7"/><circle cx="133.2" cy="505.0" r="1.7"/><circle cx="133.7" cy="488.4" r="1.7"/><circle cx="134.5" cy="486.6" r="1.7"/><circle cx="135.4" cy="497.1" r="1.7"/><circle cx="135.4" cy="495.9" r="1.7"/><circle cx="136.6" cy="497.0" r="1.7"/><circle cx="136.4" cy="487.9" r="1.7"/><circle cx="137.8" cy="498.5" r="1.7"/><circle cx="138.4" cy="489.9" r="1.7"/><circle cx="138.6" cy="496.2" r="1.7"/><circle cx="139.0" cy="490.9" r="1.7"/><circle cx="139.7" cy="495.6" r="1.7"/><circle cx="139.7" cy="485.9" r="1.7"/><circle cx="141.3" cy="499.8" r="1.7"/><circle cx="141.8" cy="495.1" r="1.7"/><circle cx="141.4" cy="500.7" r="1.7"/><circle cx="142.6" cy="497.7" r="1.7"/><circle cx="143.2" cy="489.0" r="1.7"/><circle cx="143.0" cy="498.7" r="1.7"/><circle cx="144.4" cy="495.4" r="1.7"/><circle cx="144.1" cy="499.1" r="1.7"/><circle cx="144.6" cy="493.1" r="1.7"/><circle cx="145.3" cy="490.7" r="1.7"/><circle cx="146.8" cy="486.0" r="1.7"/><circle cx="147.2" cy="495.0" r="1.7"/><circle cx="147.6" cy="488.0" r="1.7"/><circle cx="148.2" cy="497.5" r="1.7"/><circle cx="148.5" cy="495.1" r="1.7"/><circle cx="148.7" cy="493.5" r="1.7"/><circle cx="149.9" cy="500.2" r="1.7"/><circle cx="150.0" cy="490.7" r="1.7"/><circle cx="150.2" cy="497.6" r="1.7"/><circle cx="151.8" cy="493.6" r="1.7"/><circle cx="152.0" cy="490.9" r="1.7"/><circle cx="152.5" cy="486.7" r="1.7"/><circle cx="153.3" cy="493.9" r="1.7"/><circle cx="152.9" cy="498.4" r="1.7"/><circle cx="153.9" cy="490.2" r="1.7"/><circle cx="154.1" cy="495.0" r="1.7"/><circle cx="154.8" cy="498.8" r="1.7"/><circle cx="155.8" cy="490.3" r="1.7"/><circle cx="156.1" cy="499.5" r="1.7"/><circle cx="156.8" cy="492.3" r="1.7"/><circle cx="157.2" cy="492.5" r="1.7"/><circle cx="157.4" cy="487.4" r="1.7"/><circle cx="157.9" cy="497.3" r="1.7"/><circle cx="158.9" cy="478.7" r="1.7"/><circle cx="159.9" cy="487.3" r="1.7"/><circle cx="160.0" cy="488.1" r="1.7"/><circle cx="160.8" cy="479.4" r="1.7"/><circle cx="161.1" cy="483.5" r="1.7"/><circle cx="161.9" cy="489.9" r="1.7"/><circle cx="162.6" cy="483.3" r="1.7"/><circle cx="162.4" cy="485.5" r="1.7"/><circle cx="163.7" cy="481.0" r="1.7"/><circle cx="163.6" cy="490.9" r="1.7"/><circle cx="164.7" cy="493.4" r="1.7"/><circle cx="164.7" cy="485.7" r="1.7"/><circle cx="165.6" cy="484.5" r="1.7"/><circle cx="166.0" cy="480.2" r="1.7"/><circle cx="166.3" cy="484.4" r="1.7"/><circle cx="167.2" cy="477.8" r="1.7"/><circle cx="167.4" cy="486.6" r="1.7"/><circle cx="168.8" cy="488.9" r="1.7"/><circle cx="169.3" cy="478.8" r="1.7"/><circle cx="169.1" cy="469.8" r="1.7"/><circle cx="170.1" cy="476.3" r="1.7"/><circle cx="171.0" cy="484.5" r="1.7"/><circle cx="171.1" cy="472.1" r="1.7"/><circle cx="171.8" cy="477.2" r="1.7"/><circle cx="172.2" cy="473.1" r="1.7"/><circle cx="172.3" cy="471.9" r="1.7"/><circle cx="173.4" cy="480.4" r="1.7"/><circle cx="173.6" cy="477.0" r="1.7"/><circle cx="174.4" cy="475.4" r="1.7"/><circle cx="174.6" cy="474.5" r="1.7"/><circle cx="174.9" cy="479.1" r="1.7"/><circle cx="176.3" cy="474.0" r="1.7"/><circle cx="176.2" cy="481.0" r="1.7"/><circle cx="177.1" cy="480.4" r="1.7"/><circle cx="177.9" cy="480.4" r="1.7"/><circle cx="178.2" cy="487.6" r="1.7"/><circle cx="178.5" cy="486.8" r="1.7"/><circle cx="178.8" cy="486.8" r="1.7"/><circle cx="180.2" cy="487.8" r="1.7"/><circle cx="180.3" cy="489.6" r="1.7"/><circle cx="181.3" cy="486.1" r="1.7"/><circle cx="181.3" cy="486.9" r="1.7"/><circle cx="182.1" cy="490.3" r="1.7"/><circle cx="182.9" cy="496.0" r="1.7"/><circle cx="183.5" cy="495.3" r="1.7"/><circle cx="183.7" cy="489.6" r="1.7"/><circle cx="184.4" cy="490.3" r="1.7"/><circle cx="185.2" cy="489.1" r="1.7"/><circle cx="185.4" cy="501.3" r="1.7"/><circle cx="186.1" cy="493.9" r="1.7"/><circle cx="186.4" cy="495.9" r="1.7"/><circle cx="186.4" cy="499.4" r="1.7"/><circle cx="187.7" cy="483.3" r="1.7"/><circle cx="188.5" cy="489.9" r="1.7"/><circle cx="189.0" cy="499.3" r="1.7"/><circle cx="188.9" cy="497.3" r="1.7"/><circle cx="189.8" cy="491.0" r="1.7"/><circle cx="190.5" cy="504.3" r="1.7"/><circle cx="191.3" cy="502.6" r="1.7"/><circle cx="191.7" cy="492.4" r="1.7"/><circle cx="192.3" cy="499.1" r="1.7"/><circle cx="192.8" cy="491.8" r="1.7"/><circle cx="192.6" cy="500.5" r="1.7"/><circle cx="193.2" cy="497.3" r="1.7"/><circle cx="194.4" cy="489.6" r="1.7"/><circle cx="194.4" cy="499.0" r="1.7"/><circle cx="195.5" cy="500.1" r="1.7"/><circle cx="196.0" cy="505.0" r="1.7"/><circle cx="196.2" cy="492.7" r="1.7"/><circle cx="196.3" cy="493.4" r="1.7"/><circle cx="197.8" cy="490.4" r="1.7"/><circle cx="197.6" cy="494.5" r="1.7"/><circle cx="198.4" cy="495.0" r="1.7"/><circle cx="198.7" cy="492.8" r="1.7"/><circle cx="199.1" cy="484.1" r="1.7"/><circle cx="200.4" cy="492.8" r="1.7"/><circle cx="200.6" cy="502.3" r="1.7"/><circle cx="200.9" cy="493.0" r="1.7"/><circle cx="201.8" cy="486.6" r="1.7"/><circle cx="201.9" cy="484.6" r="1.7"/><circle cx="203.2" cy="491.4" r="1.7"/><circle cx="204.0" cy="485.2" r="1.7"/><circle cx="203.7" cy="493.0" r="1.7"/><circle cx="204.4" cy="480.2" r="1.7"/><circle cx="205.3" cy="490.5" r="1.7"/><circle cx="205.1" cy="490.4" r="1.7"/><circle cx="205.8" cy="501.9" r="1.7"/><circle cx="207.3" cy="493.4" r="1.7"/><circle cx="207.9" cy="494.7" r="1.7"/><circle cx="208.4" cy="474.3" r="1.7"/><circle cx="208.2" cy="493.1" r="1.7"/><circle cx="208.7" cy="490.5" r="1.7"/><circle cx="209.1" cy="487.5" r="1.7"/><circle cx="210.6" cy="497.6" r="1.7"/><circle cx="210.9" cy="494.5" r="1.7"/><circle cx="211.7" cy="486.1" r="1.7"/><circle cx="211.6" cy="492.4" r="1.7"/><circle cx="212.0" cy="486.0" r="1.7"/><circle cx="213.1" cy="489.5" r="1.7"/><circle cx="213.4" cy="485.9" r="1.7"/><circle cx="214.2" cy="476.7" r="1.7"/><circle cx="214.7" cy="492.4" r="1.7"/><circle cx="214.7" cy="483.4" r="1.7"/><circle cx="216.0" cy="481.0" r="1.7"/><circle cx="216.6" cy="486.0" r="1.7"/><circle cx="216.2" cy="492.6" r="1.7"/><circle cx="217.8" cy="485.9" r="1.7"/><circle cx="217.3" cy="487.0" r="1.7"/><circle cx="218.0" cy="494.6" r="1.7"/><circle cx="219.0" cy="497.4" r="1.7"/><circle cx="219.1" cy="489.2" r="1.7"/><circle cx="219.9" cy="494.1" r="1.7"/><circle cx="220.7" cy="485.0" r="1.7"/><circle cx="220.7" cy="486.9" r="1.7"/><circle cx="222.0" cy="500.4" r="1.7"/><circle cx="221.8" cy="489.9" r="1.7"/><circle cx="222.2" cy="489.7" r="1.7"/><circle cx="223.4" cy="497.9" r="1.7"/><circle cx="224.1" cy="485.8" r="1.7"/><circle cx="224.3" cy="494.9" r="1.7"/><circle cx="225.3" cy="491.6" r="1.7"/><circle cx="225.5" cy="487.4" r="1.7"/><circle cx="226.3" cy="485.7" r="1.7"/><circle cx="226.1" cy="495.3" r="1.7"/><circle cx="227.4" cy="487.6" r="1.7"/><circle cx="227.3" cy="486.2" r="1.7"/><circle cx="228.8" cy="490.2" r="1.7"/><circle cx="228.4" cy="492.7" r="1.7"/><circle cx="229.8" cy="502.3" r="1.7"/><circle cx="230.0" cy="482.4" r="1.7"/><circle cx="230.5" cy="502.3" r="1.7"/><circle cx="231.5" cy="489.5" r="1.7"/><circle cx="231.9" cy="503.7" r="1.7"/><circle cx="231.8" cy="492.8" r="1.7"/><circle cx="232.3" cy="492.3" r="1.7"/><circle cx="233.2" cy="491.2" r="1.7"/><circle cx="233.2" cy="494.2" r="1.7"/><circle cx="234.1" cy="501.7" r="1.7"/><circle cx="235.1" cy="501.7" r="1.7"/><circle cx="235.3" cy="502.8" r="1.7"/><circle cx="235.5" cy="495.2" r="1.7"/><circle cx="237.1" cy="489.3" r="1.7"/><circle cx="236.9" cy="499.6" r="1.7"/><circle cx="237.6" cy="506.5" r="1.7"/><circle cx="238.0" cy="500.3" r="1.7"/><circle cx="239.1" cy="506.3" r="1.7"/><circle cx="239.0" cy="501.3" r="1.7"/><circle cx="239.3" cy="500.3" r="1.7"/><circle cx="240.4" cy="503.7" r="1.7"/><circle cx="241.2" cy="501.3" r="1.7"/><circle cx="242.0" cy="501.3" r="1.7"/><circle cx="241.6" cy="499.9" r="1.7"/><circle cx="242.5" cy="505.0" r="1.7"/><circle cx="242.6" cy="501.0" r="1.7"/><circle cx="243.3" cy="494.8" r="1.7"/><circle cx="243.6" cy="499.4" r="1.7"/><circle cx="244.9" cy="503.1" r="1.7"/><circle cx="245.0" cy="491.0" r="1.7"/><circle cx="246.1" cy="484.7" r="1.7"/><circle cx="246.4" cy="492.8" r="1.7"/><circle cx="246.5" cy="482.6" r="1.7"/><circle cx="248.0" cy="483.3" r="1.7"/><circle cx="248.2" cy="493.6" r="1.7"/><circle cx="248.5" cy="484.8" r="1.7"/><circle cx="248.7" cy="484.4" r="1.7"/><circle cx="249.7" cy="475.6" r="1.7"/><circle cx="250.1" cy="490.6" r="1.7"/><circle cx="251.3" cy="482.4" r="1.7"/><circle cx="251.1" cy="479.7" r="1.7"/><circle cx="252.3" cy="491.4" r="1.7"/><circle cx="252.6" cy="477.4" r="1.7"/><circle cx="253.0" cy="483.6" r="1.7"/><circle cx="253.8" cy="491.7" r="1.7"/><circle cx="253.9" cy="490.3" r="1.7"/><circle cx="255.1" cy="483.6" r="1.7"/><circle cx="255.7" cy="482.9" r="1.7"/><circle cx="255.6" cy="483.9" r="1.7"/><circle cx="256.8" cy="488.5" r="1.7"/><circle cx="256.6" cy="484.6" r="1.7"/><circle cx="257.1" cy="487.5" r="1.7"/><circle cx="257.4" cy="485.8" r="1.7"/><circle cx="258.5" cy="487.5" r="1.7"/><circle cx="259.4" cy="486.2" r="1.7"/><circle cx="259.3" cy="485.5" r="1.7"/><circle cx="259.6" cy="482.3" r="1.7"/><circle cx="260.7" cy="487.2" r="1.7"/><circle cx="260.9" cy="493.0" r="1.7"/><circle cx="261.4" cy="495.0" r="1.7"/><circle cx="262.5" cy="488.2" r="1.7"/><circle cx="263.2" cy="488.8" r="1.7"/><circle cx="263.1" cy="488.5" r="1.7"/><circle cx="264.5" cy="487.0" r="1.7"/><circle cx="264.4" cy="477.1" r="1.7"/><circle cx="264.8" cy="497.3" r="1.7"/><circle cx="265.2" cy="482.0" r="1.7"/><circle cx="265.7" cy="497.1" r="1.7"/><circle cx="267.3" cy="493.1" r="1.7"/><circle cx="267.1" cy="488.9" r="1.7"/><circle cx="267.8" cy="489.4" r="1.7"/><circle cx="268.2" cy="491.0" r="1.7"/><circle cx="269.3" cy="484.9" r="1.7"/><circle cx="269.4" cy="492.2" r="1.7"/><circle cx="270.4" cy="482.2" r="1.7"/><circle cx="271.0" cy="485.6" r="1.7"/><circle cx="271.7" cy="493.8" r="1.7"/><circle cx="271.3" cy="497.3" r="1.7"/><circle cx="272.8" cy="493.7" r="1.7"/><circle cx="272.2" cy="490.3" r="1.7"/><circle cx="273.7" cy="489.9" r="1.7"/><circle cx="274.2" cy="483.3" r="1.7"/><circle cx="274.5" cy="496.2" r="1.7"/><circle cx="274.8" cy="497.5" r="1.7"/><circle cx="275.4" cy="488.3" r="1.7"/><circle cx="276.7" cy="498.1" r="1.7"/><circle cx="277.1" cy="490.4" r="1.7"/><circle cx="276.9" cy="506.1" r="1.7"/><circle cx="277.7" cy="490.2" r="1.7"/><circle cx="278.0" cy="500.0" r="1.7"/><circle cx="278.8" cy="485.2" r="1.7"/><circle cx="280.0" cy="493.8" r="1.7"/><circle cx="279.9" cy="500.3" r="1.7"/><circle cx="280.9" cy="498.7" r="1.7"/><circle cx="280.5" cy="486.1" r="1.7"/><circle cx="281.4" cy="505.6" r="1.7"/><circle cx="282.2" cy="487.9" r="1.7"/><circle cx="282.9" cy="500.8" r="1.7"/><circle cx="283.0" cy="493.0" r="1.7"/><circle cx="284.0" cy="499.6" r="1.7"/><circle cx="284.4" cy="497.7" r="1.7"/><circle cx="285.0" cy="501.5" r="1.7"/><circle cx="284.9" cy="496.7" r="1.7"/><circle cx="286.0" cy="498.1" r="1.7"/><circle cx="286.6" cy="500.1" r="1.7"/><circle cx="287.6" cy="485.6" r="1.7"/><circle cx="287.9" cy="496.5" r="1.7"/><circle cx="288.2" cy="489.3" r="1.7"/><circle cx="288.5" cy="494.7" r="1.7"/><circle cx="288.8" cy="481.5" r="1.7"/><circle cx="289.7" cy="491.9" r="1.7"/><circle cx="290.1" cy="485.8" r="1.7"/><circle cx="291.0" cy="481.8" r="1.7"/><circle cx="291.4" cy="478.3" r="1.7"/><circle cx="292.6" cy="492.0" r="1.7"/><circle cx="292.9" cy="490.2" r="1.7"/><circle cx="292.6" cy="479.2" r="1.7"/><circle cx="294.2" cy="488.9" r="1.7"/><circle cx="294.0" cy="479.6" r="1.7"/><circle cx="294.4" cy="483.5" r="1.7"/><circle cx="294.9" cy="499.7" r="1.7"/><circle cx="295.9" cy="491.1" r="1.7"/><circle cx="295.9" cy="480.0" r="1.7"/><circle cx="297.0" cy="489.2" r="1.7"/><circle cx="298.1" cy="482.1" r="1.7"/><circle cx="297.9" cy="485.2" r="1.7"/><circle cx="298.2" cy="481.8" r="1.7"/><circle cx="299.5" cy="479.5" r="1.7"/><circle cx="300.2" cy="481.9" r="1.7"/><circle cx="300.2" cy="482.9" r="1.7"/><circle cx="300.5" cy="482.7" r="1.7"/><circle cx="301.9" cy="489.2" r="1.7"/><circle cx="302.4" cy="481.6" r="1.7"/><circle cx="301.9" cy="483.5" r="1.7"/><circle cx="302.9" cy="482.1" r="1.7"/><circle cx="303.5" cy="480.3" r="1.7"/><circle cx="303.8" cy="481.3" r="1.7"/><circle cx="304.5" cy="489.8" r="1.7"/><circle cx="304.9" cy="479.5" r="1.7"/><circle cx="306.0" cy="482.2" r="1.7"/><circle cx="306.6" cy="488.1" r="1.7"/><circle cx="306.8" cy="492.0" r="1.7"/><circle cx="307.6" cy="484.7" r="1.7"/><circle cx="308.3" cy="488.1" r="1.7"/><circle cx="308.5" cy="486.6" r="1.7"/><circle cx="309.3" cy="499.3" r="1.7"/><circle cx="310.0" cy="481.3" r="1.7"/><circle cx="310.2" cy="503.5" r="1.7"/><circle cx="311.0" cy="491.2" r="1.7"/><circle cx="310.8" cy="485.3" r="1.7"/><circle cx="312.3" cy="483.0" r="1.7"/><circle cx="312.3" cy="490.0" r="1.7"/><circle cx="313.0" cy="493.2" r="1.7"/><circle cx="313.8" cy="494.8" r="1.7"/><circle cx="313.8" cy="497.3" r="1.7"/><circle cx="315.2" cy="489.3" r="1.7"/><circle cx="315.4" cy="500.5" r="1.7"/><circle cx="316.0" cy="494.0" r="1.7"/><circle cx="316.2" cy="493.8" r="1.7"/><circle cx="316.9" cy="502.1" r="1.7"/><circle cx="316.9" cy="491.5" r="1.7"/><circle cx="317.5" cy="502.6" r="1.7"/><circle cx="318.1" cy="494.4" r="1.7"/><circle cx="318.5" cy="495.9" r="1.7"/><circle cx="104.0" cy="513.4" r="1.7"/><circle cx="89.5" cy="479.9" r="1.7"/><circle cx="99.0" cy="484.0" r="1.7"/><circle cx="108.0" cy="481.5" r="1.7"/><circle cx="128.0" cy="472.6" r="1.7"/><circle cx="174.0" cy="463.4" r="1.7"/><circle cx="286.8" cy="512.3" r="1.7"/><circle cx="304.0" cy="468.9" r="1.7"/><circle cx="314.0" cy="510.8" r="1.7"/><circle cx="236.0" cy="508.0" r="1.7"/><circle cx="258.0" cy="468.5" r="1.7"/></g>
<line x1="445.50" y1="34.20" x2="445.50" y2="161.25" stroke="#000" stroke-width="1.3"/>
<line x1="437.10" y1="46.00" x2="445.50" y2="46.00" stroke="#000" stroke-width="1.3"/>
<text x="431.50" y="49.80" font-size="12" text-anchor="end" font-weight="normal" >100</text>
<line x1="437.10" y1="68.92" x2="445.50" y2="68.92" stroke="#000" stroke-width="1.3"/>
<text x="431.50" y="72.72" font-size="12" text-anchor="end" font-weight="normal" >80</text>
<line x1="437.10" y1="91.84" x2="445.50" y2="91.84" stroke="#000" stroke-width="1.3"/>
<text x="431.50" y="95.64" font-size="12" text-anchor="end" font-weight="normal" >60</text>
<line x1="437.10" y1="114.76" x2="445.50" y2="114.76" stroke="#000" stroke-width="1.3"/>
<text x="431.50" y="118.56" font-size="12" text-anchor="end" font-weight="normal" >40</text>
<line x1="437.10" y1="137.68" x2="445.50" y2="137.68" stroke="#000" stroke-width="1.3"/>
<text x="431.50" y="141.48" font-size="12" text-anchor="end" font-weight="normal" >20</text>
<line x1="437.10" y1="160.60" x2="445.50" y2="160.60" stroke="#000" stroke-width="1.3"/>
<text x="431.50" y="164.40" font-size="12" text-anchor="end" font-weight="normal" >0</text>
<line x1="444.85" y1="160.60" x2="736.40" y2="160.60" stroke="#000" stroke-width="1.3"/>
<text transform="translate(404.00,96.70) rotate(-90)" font-size="12" text-anchor="middle">Firing rate (spike/s)</text>
<line x1="493.60" y1="160.60" x2="493.60" y2="167.90" stroke="#000" stroke-width="1.3"/>
<text x="493.60" y="184.50" font-size="12" text-anchor="middle" font-weight="normal" >All</text>
<line x1="591.00" y1="160.60" x2="591.00" y2="167.90" stroke="#000" stroke-width="1.3"/>
<text x="591.00" y="184.50" font-size="12" text-anchor="middle" font-weight="normal" >Regular</text>
<line x1="687.60" y1="160.60" x2="687.60" y2="167.90" stroke="#000" stroke-width="1.3"/>
<text x="687.60" y="184.50" font-size="12" text-anchor="middle" font-weight="normal" >Irregular</text>
<rect x="455.00" y="73.00" width="26.70" height="87.60" fill="#000" stroke="#000" stroke-width="1.1"/>
<line x1="468.30" y1="68.70" x2="468.30" y2="73.00" stroke="#000" stroke-width="1.3"/>
<line x1="463.60" y1="68.70" x2="473.00" y2="68.70" stroke="#000" stroke-width="1.5"/>
<rect x="481.70" y="95.40" width="25.10" height="65.20" fill="#CC1B1B" stroke="#000" stroke-width="1.1"/>
<line x1="494.10" y1="87.90" x2="494.10" y2="102.50" stroke="#000" stroke-width="1.3"/>
<line x1="489.40" y1="87.90" x2="498.80" y2="87.90" stroke="#000" stroke-width="1.5"/>
<line x1="489.40" y1="102.50" x2="498.80" y2="102.50" stroke="#000" stroke-width="1.5"/>
<rect x="507.00" y="68.20" width="25.80" height="92.40" fill="#2200F2" stroke="#000" stroke-width="1.1"/>
<line x1="519.90" y1="62.30" x2="519.90" y2="68.20" stroke="#2200F2" stroke-width="1.3"/>
<line x1="515.20" y1="62.30" x2="524.60" y2="62.30" stroke="#2200F2" stroke-width="1.5"/>
<rect x="551.90" y="51.10" width="26.50" height="109.50" fill="#000" stroke="#000" stroke-width="1.1"/>
<line x1="565.00" y1="44.40" x2="565.00" y2="51.10" stroke="#000" stroke-width="1.3"/>
<line x1="560.30" y1="44.40" x2="569.70" y2="44.40" stroke="#000" stroke-width="1.5"/>
<rect x="578.40" y="98.00" width="25.20" height="62.60" fill="#CC1B1B" stroke="#000" stroke-width="1.1"/>
<line x1="591.00" y1="73.50" x2="591.00" y2="122.20" stroke="#000" stroke-width="1.3"/>
<line x1="586.30" y1="73.50" x2="595.70" y2="73.50" stroke="#000" stroke-width="1.5"/>
<line x1="586.30" y1="122.20" x2="595.70" y2="122.20" stroke="#000" stroke-width="1.5"/>
<rect x="603.20" y="71.30" width="26.80" height="89.30" fill="#2200F2"/>
<line x1="616.90" y1="65.00" x2="616.90" y2="71.90" stroke="#2200F2" stroke-width="1.3"/>
<line x1="612.20" y1="65.00" x2="621.60" y2="65.00" stroke="#2200F2" stroke-width="1.5"/>
<rect x="648.70" y="77.30" width="26.80" height="83.30" fill="#000" stroke="#000" stroke-width="1.1"/>
<line x1="661.80" y1="71.90" x2="661.80" y2="77.30" stroke="#000" stroke-width="1.3"/>
<line x1="657.10" y1="71.90" x2="666.50" y2="71.90" stroke="#000" stroke-width="1.5"/>
<rect x="675.50" y="95.00" width="24.90" height="65.60" fill="#CC1B1B" stroke="#000" stroke-width="1.1"/>
<line x1="687.60" y1="87.20" x2="687.60" y2="102.60" stroke="#000" stroke-width="1.3"/>
<line x1="682.90" y1="87.20" x2="692.30" y2="87.20" stroke="#000" stroke-width="1.5"/>
<line x1="682.90" y1="102.60" x2="692.30" y2="102.60" stroke="#000" stroke-width="1.5"/>
<rect x="700.20" y="66.20" width="26.90" height="94.40" fill="#2200F2"/>
<line x1="713.80" y1="59.30" x2="713.80" y2="66.50" stroke="#2200F2" stroke-width="1.3"/>
<line x1="709.10" y1="59.30" x2="718.50" y2="59.30" stroke="#2200F2" stroke-width="1.5"/>
<path d="M468.50,65.00 L468.50,44.40 L491.40,44.40 L491.40,83.10" fill="none" stroke="#000" stroke-width="1.5"/>
<path d="M495.90,83.10 L495.90,44.40 L519.40,44.40 L519.40,60.00" fill="none" stroke="#000" stroke-width="1.5"/>
<path d="M564.70,43.60 L564.70,35.20 L590.30,35.20 L590.30,65.60" fill="none" stroke="#000" stroke-width="1.5"/>
<text x="479.00" y="47.90" font-size="20" text-anchor="middle">*</text>
<text x="506.30" y="47.90" font-size="20" text-anchor="middle">*</text>
<text x="576.20" y="40.10" font-size="20" text-anchor="middle">*</text>
<line x1="445.50" y1="206.05" x2="445.50" y2="331.95" stroke="#000" stroke-width="1.3"/>
<line x1="437.10" y1="206.05" x2="445.50" y2="206.05" stroke="#000" stroke-width="1.3"/>
<text x="431.50" y="209.85" font-size="12" text-anchor="end" font-weight="normal" >0.30</text>
<line x1="437.10" y1="226.93" x2="445.50" y2="226.93" stroke="#000" stroke-width="1.3"/>
<text x="431.50" y="230.73" font-size="12" text-anchor="end" font-weight="normal" >0.25</text>
<line x1="437.10" y1="247.80" x2="445.50" y2="247.80" stroke="#000" stroke-width="1.3"/>
<text x="431.50" y="251.60" font-size="12" text-anchor="end" font-weight="normal" >0.20</text>
<line x1="437.10" y1="268.68" x2="445.50" y2="268.68" stroke="#000" stroke-width="1.3"/>
<text x="431.50" y="272.48" font-size="12" text-anchor="end" font-weight="normal" >0.15</text>
<line x1="437.10" y1="289.55" x2="445.50" y2="289.55" stroke="#000" stroke-width="1.3"/>
<text x="431.50" y="293.35" font-size="12" text-anchor="end" font-weight="normal" >0.10</text>
<line x1="437.10" y1="310.43" x2="445.50" y2="310.43" stroke="#000" stroke-width="1.3"/>
<text x="431.50" y="314.23" font-size="12" text-anchor="end" font-weight="normal" >0.05</text>
<line x1="437.10" y1="331.30" x2="445.50" y2="331.30" stroke="#000" stroke-width="1.3"/>
<text x="431.50" y="335.10" font-size="12" text-anchor="end" font-weight="normal" >0.00</text>
<line x1="444.85" y1="331.30" x2="737.20" y2="331.30" stroke="#000" stroke-width="1.3"/>
<text transform="translate(401.30,268.00) rotate(-90)" font-size="12.3" text-anchor="middle">Gain (spike/s/deg/s)</text>
<line x1="518.40" y1="331.30" x2="518.40" y2="339.60" stroke="#000" stroke-width="1.3"/>
<text x="518.40" y="355.00" font-size="12" text-anchor="middle" font-weight="normal" >Regular</text>
<line x1="663.40" y1="331.30" x2="663.40" y2="339.60" stroke="#000" stroke-width="1.3"/>
<text x="663.40" y="355.00" font-size="12" text-anchor="middle" font-weight="normal" >Irregular</text>
<rect x="478.50" y="296.50" width="26.90" height="34.80" fill="#000" stroke="#000" stroke-width="1.1"/>
<line x1="491.90" y1="286.80" x2="491.90" y2="296.50" stroke="#000" stroke-width="1.1"/>
<line x1="487.40" y1="286.80" x2="496.40" y2="286.80" stroke="#000" stroke-width="1.5"/>
<rect x="505.40" y="323.90" width="26.10" height="7.40" fill="#CC1B1B" stroke="#000" stroke-width="1.1"/>
<rect x="531.50" y="314.90" width="26.60" height="16.40" fill="#2200F2" stroke="#000" stroke-width="1.1"/>
<line x1="541.3" y1="314.4" x2="548.9" y2="314.4" stroke="#000" stroke-width="2.6" stroke-linecap="round"/>
<rect x="623.40" y="230.60" width="27.10" height="100.70" fill="#000" stroke="#000" stroke-width="1.1"/>
<line x1="637.10" y1="216.40" x2="637.10" y2="230.60" stroke="#000" stroke-width="1.0"/>
<line x1="632.40" y1="216.40" x2="641.80" y2="216.40" stroke="#000" stroke-width="1.5"/>
<rect x="650.50" y="302.60" width="26.30" height="28.70" fill="#CC1B1B" stroke="#000" stroke-width="1.1"/>
<line x1="663.40" y1="291.40" x2="663.40" y2="313.70" stroke="#000" stroke-width="1.0"/>
<line x1="658.90" y1="291.40" x2="667.90" y2="291.40" stroke="#000" stroke-width="1.5"/>
<line x1="658.90" y1="313.70" x2="667.90" y2="313.70" stroke="#000" stroke-width="1.5"/>
<rect x="676.80" y="263.30" width="26.40" height="68.00" fill="#2200F2" stroke="#000" stroke-width="1.1"/>
<line x1="690.40" y1="251.90" x2="690.40" y2="273.80" stroke="#000" stroke-width="1.0"/>
<line x1="685.90" y1="251.90" x2="694.90" y2="251.90" stroke="#000" stroke-width="1.5"/>
<line x1="685.90" y1="273.80" x2="694.90" y2="273.80" stroke="#000" stroke-width="1.5"/>
<path d="M637.90,213.50 L637.90,206.00 L660.90,206.00 L660.90,283.60" fill="none" stroke="#000" stroke-width="1.5"/>
<path d="M666.90,283.60 L666.90,243.00 L690.30,243.00 L690.30,250.30" fill="none" stroke="#000" stroke-width="1.5"/>
<text x="648.60" y="210.80" font-size="20" text-anchor="middle">*</text>
<text x="679.70" y="246.10" font-size="20" text-anchor="middle">*</text>
<rect x="455.3" y="197.3" width="127.5" height="46.3" fill="#fff" stroke="#555" stroke-width="1"/>
<rect x="456.6" y="199.2" width="27.5" height="13.3" fill="#000"/>
<rect x="457.1" y="214.9" width="26.5" height="12.3" fill="#CC1B1B" stroke="#000" stroke-width="1"/>
<rect x="456.6" y="229.0" width="27.5" height="13.3" fill="#2200F2"/>
<text x="487.30" y="210.10" font-size="12.3" text-anchor="start" font-weight="normal" >WT</text>
<text x="487.30" y="225.30" font-size="12.3" text-anchor="start" font-weight="normal" >216AA</text>
<text x="487.30" y="239.50" font-size="12.3" text-anchor="start" font-weight="normal" >216AA + ASO-29</text>
<line x1="445.50" y1="399.30" x2="445.50" y2="525.95" stroke="#000" stroke-width="1.3"/>
<line x1="437.10" y1="399.30" x2="445.50" y2="399.30" stroke="#000" stroke-width="1.3"/>
<text x="431.50" y="403.10" font-size="12" text-anchor="end" font-weight="normal" >0.6</text>
<line x1="437.10" y1="420.30" x2="445.50" y2="420.30" stroke="#000" stroke-width="1.3"/>
<text x="431.50" y="424.10" font-size="12" text-anchor="end" font-weight="normal" >0.5</text>
<line x1="437.10" y1="441.30" x2="445.50" y2="441.30" stroke="#000" stroke-width="1.3"/>
<text x="431.50" y="445.10" font-size="12" text-anchor="end" font-weight="normal" >0.4</text>
<line x1="437.10" y1="462.30" x2="445.50" y2="462.30" stroke="#000" stroke-width="1.3"/>
<text x="431.50" y="466.10" font-size="12" text-anchor="end" font-weight="normal" >0.3</text>
<line x1="437.10" y1="483.30" x2="445.50" y2="483.30" stroke="#000" stroke-width="1.3"/>
<text x="431.50" y="487.10" font-size="12" text-anchor="end" font-weight="normal" >0.2</text>
<line x1="437.10" y1="504.30" x2="445.50" y2="504.30" stroke="#000" stroke-width="1.3"/>
<text x="431.50" y="508.10" font-size="12" text-anchor="end" font-weight="normal" >0.1</text>
<line x1="437.10" y1="525.30" x2="445.50" y2="525.30" stroke="#000" stroke-width="1.3"/>
<text x="431.50" y="529.10" font-size="12" text-anchor="end" font-weight="normal" >0.0</text>
<line x1="444.85" y1="525.30" x2="736.70" y2="525.30" stroke="#000" stroke-width="1.3"/>
<line x1="445.50" y1="525.30" x2="445.50" y2="533.30" stroke="#000" stroke-width="1.3"/>
<line x1="736.70" y1="525.30" x2="736.70" y2="532.60" stroke="#000" stroke-width="1.3"/>
<text transform="translate(407.9,472.6) rotate(-90)" font-size="12">CV</text>
<text transform="translate(405.2,455.6) rotate(-90)" font-size="9">*</text>
<line x1="518.40" y1="525.30" x2="518.40" y2="532.80" stroke="#000" stroke-width="1.3"/>
<text x="515.40" y="548.00" font-size="12" text-anchor="middle" font-weight="normal" >WT</text>
<line x1="591.00" y1="525.30" x2="591.00" y2="532.80" stroke="#000" stroke-width="1.3"/>
<text x="583.60" y="548.00" font-size="12" text-anchor="middle" font-weight="normal" >216AA</text>
<line x1="663.40" y1="525.30" x2="663.40" y2="532.80" stroke="#000" stroke-width="1.3"/>
<text x="665.80" y="548.00" font-size="12" text-anchor="middle" font-weight="normal" >216AA+ASO-29</text>
<rect x="504.00" y="428.00" width="37.60" height="97.30" fill="#000" stroke="#000" stroke-width="1.1"/>
<line x1="522.40" y1="417.20" x2="522.40" y2="427.70" stroke="#000" stroke-width="1.3"/>
<line x1="517.70" y1="417.20" x2="527.10" y2="417.20" stroke="#000" stroke-width="1.5"/>
<rect x="572.20" y="475.70" width="37.60" height="49.60" fill="#CC1B1B" stroke="#000" stroke-width="1.1"/>
<line x1="591.00" y1="470.90" x2="591.00" y2="480.80" stroke="#000" stroke-width="1.3"/>
<line x1="586.30" y1="470.90" x2="595.70" y2="470.90" stroke="#000" stroke-width="1.5"/>
<line x1="586.30" y1="480.80" x2="595.70" y2="480.80" stroke="#000" stroke-width="1.5"/>
<rect x="640.10" y="421.70" width="38.60" height="103.60" fill="#2200F2" stroke="#000" stroke-width="1.1"/>
<line x1="659.40" y1="413.10" x2="659.40" y2="430.30" stroke="#000" stroke-width="1.3"/>
<line x1="654.70" y1="413.10" x2="664.10" y2="413.10" stroke="#000" stroke-width="1.5"/>
<line x1="654.70" y1="430.30" x2="664.10" y2="430.30" stroke="#000" stroke-width="1.5"/>
<path d="M521.20,413.90 L521.20,407.00 L588.80,407.00 L588.80,463.60" fill="none" stroke="#000" stroke-width="1.5"/>
<path d="M592.30,463.60 L592.30,402.10 L658.90,402.10 L658.90,409.60" fill="none" stroke="#000" stroke-width="1.5"/>
<text x="555.40" y="410.40" font-size="20" text-anchor="middle">**</text>
<text x="622.00" y="405.20" font-size="20" text-anchor="middle">**</text>
</svg></body></html>
